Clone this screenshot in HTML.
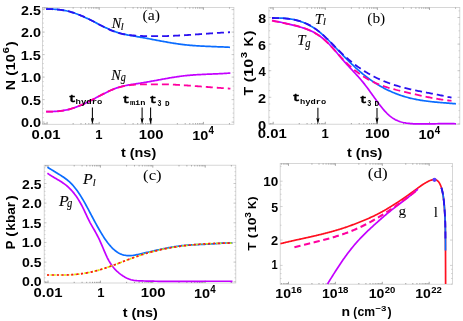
<!DOCTYPE html>
<html><head><meta charset="utf-8"><title>fig</title>
<style>
html,body{margin:0;padding:0;background:#fff;}
body{width:463px;height:321px;overflow:hidden;font-family:"Liberation Sans",sans-serif;}
svg{display:block;position:absolute;left:0;top:0;will-change:transform;}
</style></head><body>
<svg width="463" height="321" viewBox="0 0 463 321">
<rect x="42.5" y="7.4" width="191.40" height="116.90" fill="none" stroke="#cccccc" stroke-width="0.8"/>
<path d="M47.10 124.3 v-2.4 M47.10 7.4 v2.4 M99.20 124.3 v-2.4 M99.20 7.4 v2.4 M151.30 124.3 v-2.4 M151.30 7.4 v2.4 M203.40 124.3 v-2.4 M203.40 7.4 v2.4 " stroke="#808080" stroke-width="0.7" fill="none"/>
<path d="M43.06 124.3 v-1.2 M43.06 7.4 v1.2 M44.58 124.3 v-1.2 M44.58 7.4 v1.2 M45.91 124.3 v-1.2 M45.91 7.4 v1.2 M73.15 124.3 v-1.2 M73.15 7.4 v1.2 M80.99 124.3 v-1.2 M80.99 7.4 v1.2 M85.58 124.3 v-1.2 M85.58 7.4 v1.2 M88.83 124.3 v-1.2 M88.83 7.4 v1.2 M91.36 124.3 v-1.2 M91.36 7.4 v1.2 M93.42 124.3 v-1.2 M93.42 7.4 v1.2 M95.16 124.3 v-1.2 M95.16 7.4 v1.2 M96.68 124.3 v-1.2 M96.68 7.4 v1.2 M98.01 124.3 v-1.2 M98.01 7.4 v1.2 M125.25 124.3 v-1.2 M125.25 7.4 v1.2 M133.09 124.3 v-1.2 M133.09 7.4 v1.2 M137.68 124.3 v-1.2 M137.68 7.4 v1.2 M140.93 124.3 v-1.2 M140.93 7.4 v1.2 M143.46 124.3 v-1.2 M143.46 7.4 v1.2 M145.52 124.3 v-1.2 M145.52 7.4 v1.2 M147.26 124.3 v-1.2 M147.26 7.4 v1.2 M148.78 124.3 v-1.2 M148.78 7.4 v1.2 M150.11 124.3 v-1.2 M150.11 7.4 v1.2 M177.35 124.3 v-1.2 M177.35 7.4 v1.2 M185.19 124.3 v-1.2 M185.19 7.4 v1.2 M189.78 124.3 v-1.2 M189.78 7.4 v1.2 M193.03 124.3 v-1.2 M193.03 7.4 v1.2 M195.56 124.3 v-1.2 M195.56 7.4 v1.2 M197.62 124.3 v-1.2 M197.62 7.4 v1.2 M199.36 124.3 v-1.2 M199.36 7.4 v1.2 M200.88 124.3 v-1.2 M200.88 7.4 v1.2 M202.21 124.3 v-1.2 M202.21 7.4 v1.2 M229.45 124.3 v-1.2 M229.45 7.4 v1.2 " stroke="#808080" stroke-width="0.7" fill="none"/>
<path d="M42.5 122.10 h2.4 M233.9 122.10 h-2.4 M42.5 99.60 h2.4 M233.9 99.60 h-2.4 M42.5 77.10 h2.4 M233.9 77.10 h-2.4 M42.5 54.60 h2.4 M233.9 54.60 h-2.4 M42.5 32.10 h2.4 M233.9 32.10 h-2.4 M42.5 9.60 h2.4 M233.9 9.60 h-2.4 " stroke="#b4b4b4" stroke-width="0.6" fill="none"/>
<path d="M42.5 122.10 h1.3 M233.9 122.10 h-1.3 M42.5 117.60 h1.3 M233.9 117.60 h-1.3 M42.5 113.10 h1.3 M233.9 113.10 h-1.3 M42.5 108.60 h1.3 M233.9 108.60 h-1.3 M42.5 104.10 h1.3 M233.9 104.10 h-1.3 M42.5 99.60 h1.3 M233.9 99.60 h-1.3 M42.5 95.10 h1.3 M233.9 95.10 h-1.3 M42.5 90.60 h1.3 M233.9 90.60 h-1.3 M42.5 86.10 h1.3 M233.9 86.10 h-1.3 M42.5 81.60 h1.3 M233.9 81.60 h-1.3 M42.5 77.10 h1.3 M233.9 77.10 h-1.3 M42.5 72.60 h1.3 M233.9 72.60 h-1.3 M42.5 68.10 h1.3 M233.9 68.10 h-1.3 M42.5 63.60 h1.3 M233.9 63.60 h-1.3 M42.5 59.10 h1.3 M233.9 59.10 h-1.3 M42.5 54.60 h1.3 M233.9 54.60 h-1.3 M42.5 50.10 h1.3 M233.9 50.10 h-1.3 M42.5 45.60 h1.3 M233.9 45.60 h-1.3 M42.5 41.10 h1.3 M233.9 41.10 h-1.3 M42.5 36.60 h1.3 M233.9 36.60 h-1.3 M42.5 32.10 h1.3 M233.9 32.10 h-1.3 M42.5 27.60 h1.3 M233.9 27.60 h-1.3 M42.5 23.10 h1.3 M233.9 23.10 h-1.3 M42.5 18.60 h1.3 M233.9 18.60 h-1.3 M42.5 14.10 h1.3 M233.9 14.10 h-1.3 M42.5 9.60 h1.3 M233.9 9.60 h-1.3 " stroke="#b4b4b4" stroke-width="0.6" fill="none"/>
<path d="M46.10 9.20 L47.10 9.20 L48.10 9.20 L49.10 9.20 L50.10 9.20 L51.10 9.20 L52.10 9.20 L53.10 9.22 L54.10 9.26 L55.10 9.32 L56.09 9.39 L57.09 9.47 L58.09 9.56 L59.09 9.66 L60.09 9.78 L61.09 9.91 L62.09 10.06 L63.09 10.22 L64.09 10.39 L65.09 10.58 L66.09 10.78 L67.09 11.00 L68.09 11.23 L69.09 11.48 L70.09 11.75 L71.09 12.03 L72.09 12.33 L73.09 12.65 L74.08 12.98 L75.08 13.32 L76.08 13.68 L77.08 14.05 L78.08 14.44 L79.08 14.83 L80.08 15.24 L81.08 15.66 L82.08 16.09 L83.08 16.53 L84.08 16.98 L85.08 17.44 L86.08 17.90 L87.08 18.37 L88.08 18.85 L89.08 19.34 L90.08 19.83 L91.08 20.33 L92.08 20.83 L93.07 21.34 L94.07 21.85 L95.07 22.36 L96.07 22.87 L97.07 23.38 L98.07 23.90 L99.07 24.41 L100.07 24.92 L101.07 25.42 L102.07 25.92 L103.07 26.42 L104.07 26.91 L105.07 27.40 L106.07 27.87 L107.07 28.34 L108.07 28.80 L109.07 29.24 L110.07 29.68 L111.06 30.10 L112.06 30.51 L113.06 30.91 L114.06 31.29 L115.06 31.65 L116.06 32.00 L117.06 32.33 L118.06 32.65 L119.06 32.94 L120.06 33.22 L121.06 33.49 L122.06 33.75 L123.06 33.99 L124.06 34.22 L125.06 34.44 L126.06 34.65 L127.06 34.86 L128.06 35.05 L129.05 35.24 L130.05 35.42 L131.05 35.60 L132.05 35.78 L133.05 35.95 L134.05 36.12 L135.05 36.28 L136.05 36.45 L137.05 36.62 L138.05 36.79 L139.05 36.96 L140.05 37.13 L141.05 37.31 L142.05 37.49 L143.05 37.67 L144.05 37.85 L145.05 38.03 L146.05 38.22 L147.05 38.41 L148.04 38.59 L149.04 38.78 L150.04 38.97 L151.04 39.16 L152.04 39.35 L153.04 39.54 L154.04 39.73 L155.04 39.92 L156.04 40.11 L157.04 40.30 L158.04 40.49 L159.04 40.68 L160.04 40.86 L161.04 41.05 L162.04 41.23 L163.04 41.42 L164.04 41.60 L165.04 41.78 L166.03 41.96 L167.03 42.14 L168.03 42.31 L169.03 42.48 L170.03 42.65 L171.03 42.82 L172.03 42.98 L173.03 43.15 L174.03 43.30 L175.03 43.46 L176.03 43.61 L177.03 43.76 L178.03 43.90 L179.03 44.04 L180.03 44.18 L181.03 44.31 L182.03 44.44 L183.03 44.56 L184.03 44.68 L185.02 44.79 L186.02 44.90 L187.02 45.00 L188.02 45.10 L189.02 45.20 L190.02 45.29 L191.02 45.38 L192.02 45.46 L193.02 45.54 L194.02 45.61 L195.02 45.69 L196.02 45.76 L197.02 45.82 L198.02 45.88 L199.02 45.95 L200.02 46.00 L201.02 46.06 L202.02 46.11 L203.01 46.16 L204.01 46.21 L205.01 46.26 L206.01 46.31 L207.01 46.35 L208.01 46.39 L209.01 46.43 L210.01 46.47 L211.01 46.51 L212.01 46.55 L213.01 46.59 L214.01 46.63 L215.01 46.67 L216.01 46.70 L217.01 46.74 L218.01 46.78 L219.01 46.82 L220.01 46.85 L221.00 46.89 L222.00 46.93 L223.00 46.97 L224.00 47.02 L225.00 47.06 L226.00 47.10 L227.00 47.15 L228.00 47.20 L229.00 47.25 L230.00 47.30" fill="none" stroke="#0a6cff" stroke-width="1.7" stroke-linejoin="round" stroke-linecap="butt"/>
<path d="M46.10 9.20 L47.10 9.20 L48.10 9.20 L49.10 9.20 L50.10 9.20 L51.10 9.20 L52.10 9.22 L53.10 9.25 L54.10 9.30 L55.10 9.36 L56.09 9.42 L57.09 9.50 L58.09 9.59 L59.09 9.70 L60.09 9.81 L61.09 9.94 L62.09 10.09 L63.09 10.24 L64.09 10.41 L65.09 10.60 L66.09 10.79 L67.09 11.01 L68.09 11.24 L69.09 11.48 L70.09 11.74 L71.09 12.02 L72.09 12.31 L73.09 12.62 L74.08 12.95 L75.08 13.28 L76.08 13.64 L77.08 14.00 L78.08 14.38 L79.08 14.77 L80.08 15.17 L81.08 15.59 L82.08 16.02 L83.08 16.45 L84.08 16.90 L85.08 17.36 L86.08 17.82 L87.08 18.30 L88.08 18.78 L89.08 19.27 L90.08 19.77 L91.08 20.27 L92.08 20.78 L93.07 21.30 L94.07 21.82 L95.07 22.34 L96.07 22.87 L97.07 23.40 L98.07 23.93 L99.07 24.46 L100.07 24.98 L101.07 25.50 L102.07 26.02 L103.07 26.54 L104.07 27.04 L105.07 27.54 L106.07 28.03 L107.07 28.51 L108.07 28.98 L109.07 29.44 L110.07 29.88 L111.06 30.31 L112.06 30.73 L113.06 31.13 L114.06 31.51 L115.06 31.87 L116.06 32.21 L117.06 32.53 L118.06 32.83 L119.06 33.11 L120.06 33.37 L121.06 33.62 L122.06 33.85 L123.06 34.06 L124.06 34.25 L125.06 34.43 L126.06 34.60 L127.06 34.75 L128.06 34.89 L129.05 35.02 L130.05 35.14 L131.05 35.25 L132.05 35.35 L133.05 35.44 L134.05 35.52 L135.05 35.60 L136.05 35.67 L137.05 35.73 L138.05 35.79 L139.05 35.84 L140.05 35.90 L141.05 35.94 L142.05 35.99 L143.05 36.03 L144.05 36.06 L145.05 36.10 L146.05 36.12 L147.05 36.15 L148.04 36.17 L149.04 36.19 L150.04 36.20 L151.04 36.20 L152.04 36.20 L153.04 36.20 L154.04 36.20 L155.04 36.20 L156.04 36.20 L157.04 36.20 L158.04 36.20 L159.04 36.20 L160.04 36.20 L161.04 36.18 L162.04 36.16 L163.04 36.14 L164.04 36.12 L165.04 36.09 L166.03 36.07 L167.03 36.04 L168.03 36.00 L169.03 35.97 L170.03 35.93 L171.03 35.89 L172.03 35.85 L173.03 35.81 L174.03 35.76 L175.03 35.72 L176.03 35.67 L177.03 35.62 L178.03 35.57 L179.03 35.52 L180.03 35.46 L181.03 35.41 L182.03 35.35 L183.03 35.29 L184.03 35.23 L185.02 35.17 L186.02 35.11 L187.02 35.05 L188.02 34.98 L189.02 34.92 L190.02 34.85 L191.02 34.79 L192.02 34.72 L193.02 34.65 L194.02 34.58 L195.02 34.51 L196.02 34.44 L197.02 34.37 L198.02 34.30 L199.02 34.23 L200.02 34.16 L201.02 34.09 L202.02 34.02 L203.01 33.95 L204.01 33.88 L205.01 33.80 L206.01 33.73 L207.01 33.66 L208.01 33.59 L209.01 33.52 L210.01 33.45 L211.01 33.38 L212.01 33.31 L213.01 33.24 L214.01 33.17 L215.01 33.10 L216.01 33.04 L217.01 32.97 L218.01 32.91 L219.01 32.84 L220.01 32.78 L221.00 32.71 L222.00 32.65 L223.00 32.59 L224.00 32.53 L225.00 32.47 L226.00 32.42 L227.00 32.36 L228.00 32.31 L229.00 32.26 L230.00 32.20" fill="none" stroke="#2a10f0" stroke-width="1.8" stroke-linejoin="round" stroke-linecap="butt" stroke-dasharray="7 4" stroke-dashoffset="0"/>
<path d="M46.10 111.60 L47.10 111.60 L48.09 111.60 L49.09 111.60 L50.08 111.59 L51.08 111.57 L52.08 111.54 L53.07 111.50 L54.07 111.46 L55.07 111.40 L56.06 111.33 L57.06 111.26 L58.05 111.17 L59.05 111.07 L60.05 110.96 L61.04 110.83 L62.04 110.70 L63.04 110.55 L64.03 110.38 L65.03 110.20 L66.02 110.01 L67.02 109.80 L68.02 109.57 L69.01 109.33 L70.01 109.07 L71.01 108.79 L72.00 108.50 L73.00 108.19 L73.99 107.86 L74.99 107.52 L75.99 107.16 L76.98 106.79 L77.98 106.41 L78.98 106.02 L79.97 105.61 L80.97 105.19 L81.96 104.76 L82.96 104.31 L83.96 103.86 L84.95 103.40 L85.95 102.93 L86.94 102.45 L87.94 101.96 L88.94 101.47 L89.93 100.97 L90.93 100.46 L91.93 99.95 L92.92 99.44 L93.92 98.91 L94.91 98.39 L95.91 97.86 L96.91 97.33 L97.90 96.80 L98.90 96.27 L99.90 95.74 L100.89 95.22 L101.89 94.69 L102.88 94.18 L103.88 93.66 L104.88 93.15 L105.87 92.65 L106.87 92.16 L107.87 91.68 L108.86 91.21 L109.86 90.75 L110.85 90.30 L111.85 89.86 L112.85 89.44 L113.84 89.04 L114.84 88.65 L115.84 88.28 L116.83 87.92 L117.83 87.59 L118.82 87.27 L119.82 86.98 L120.82 86.70 L121.81 86.43 L122.81 86.19 L123.80 85.95 L124.80 85.73 L125.80 85.52 L126.79 85.33 L127.79 85.14 L128.79 84.96 L129.78 84.79 L130.78 84.62 L131.77 84.46 L132.77 84.31 L133.77 84.16 L134.76 84.01 L135.76 83.86 L136.76 83.71 L137.75 83.56 L138.75 83.41 L139.74 83.26 L140.74 83.10 L141.74 82.94 L142.73 82.78 L143.73 82.62 L144.73 82.45 L145.72 82.28 L146.72 82.10 L147.71 81.93 L148.71 81.75 L149.71 81.57 L150.70 81.39 L151.70 81.21 L152.70 81.03 L153.69 80.84 L154.69 80.66 L155.68 80.48 L156.68 80.29 L157.68 80.11 L158.67 79.92 L159.67 79.74 L160.66 79.55 L161.66 79.37 L162.66 79.19 L163.65 79.00 L164.65 78.82 L165.65 78.65 L166.64 78.47 L167.64 78.29 L168.63 78.12 L169.63 77.95 L170.63 77.78 L171.62 77.61 L172.62 77.45 L173.62 77.29 L174.61 77.13 L175.61 76.98 L176.60 76.83 L177.60 76.68 L178.60 76.54 L179.59 76.40 L180.59 76.27 L181.59 76.14 L182.58 76.01 L183.58 75.89 L184.57 75.78 L185.57 75.67 L186.57 75.57 L187.56 75.47 L188.56 75.37 L189.56 75.28 L190.55 75.20 L191.55 75.12 L192.54 75.04 L193.54 74.97 L194.54 74.90 L195.53 74.83 L196.53 74.77 L197.52 74.71 L198.52 74.65 L199.52 74.60 L200.51 74.54 L201.51 74.49 L202.51 74.44 L203.50 74.40 L204.50 74.35 L205.49 74.31 L206.49 74.26 L207.49 74.22 L208.48 74.18 L209.48 74.14 L210.48 74.10 L211.47 74.06 L212.47 74.02 L213.46 73.97 L214.46 73.93 L215.46 73.89 L216.45 73.84 L217.45 73.80 L218.45 73.75 L219.44 73.70 L220.44 73.65 L221.43 73.60 L222.43 73.55 L223.43 73.49 L224.42 73.43 L225.42 73.36 L226.42 73.30 L227.41 73.23 L228.41 73.16 L229.40 73.08 L230.40 73.00" fill="none" stroke="#c400ff" stroke-width="1.7" stroke-linejoin="round" stroke-linecap="butt"/>
<path d="M46.10 111.60 L47.10 111.60 L48.09 111.60 L49.09 111.60 L50.08 111.60 L51.08 111.60 L52.08 111.60 L53.07 111.60 L54.07 111.57 L55.07 111.52 L56.06 111.45 L57.06 111.37 L58.05 111.28 L59.05 111.18 L60.05 111.06 L61.04 110.93 L62.04 110.78 L63.04 110.62 L64.03 110.44 L65.03 110.25 L66.02 110.05 L67.02 109.83 L68.02 109.59 L69.01 109.34 L70.01 109.07 L71.01 108.78 L72.00 108.48 L73.00 108.16 L73.99 107.83 L74.99 107.48 L75.99 107.12 L76.98 106.74 L77.98 106.36 L78.98 105.96 L79.97 105.54 L80.97 105.12 L81.96 104.69 L82.96 104.24 L83.96 103.79 L84.95 103.33 L85.95 102.86 L86.94 102.38 L87.94 101.89 L88.94 101.40 L89.93 100.90 L90.93 100.39 L91.93 99.88 L92.92 99.36 L93.92 98.84 L94.91 98.32 L95.91 97.79 L96.91 97.26 L97.90 96.73 L98.90 96.20 L99.90 95.68 L100.89 95.15 L101.89 94.63 L102.88 94.12 L103.88 93.61 L104.88 93.11 L105.87 92.61 L106.87 92.12 L107.87 91.65 L108.86 91.18 L109.86 90.73 L110.85 90.29 L111.85 89.86 L112.85 89.45 L113.84 89.05 L114.84 88.67 L115.84 88.31 L116.83 87.97 L117.83 87.65 L118.82 87.35 L119.82 87.07 L120.82 86.81 L121.81 86.57 L122.81 86.34 L123.80 86.13 L124.80 85.94 L125.80 85.76 L126.79 85.60 L127.79 85.45 L128.79 85.31 L129.78 85.19 L130.78 85.07 L131.77 84.97 L132.77 84.88 L133.77 84.79 L134.76 84.71 L135.76 84.64 L136.76 84.58 L137.75 84.52 L138.75 84.47 L139.74 84.42 L140.74 84.38 L141.74 84.34 L142.73 84.30 L143.73 84.30 L144.73 84.30 L145.72 84.30 L146.72 84.30 L147.71 84.30 L148.71 84.30 L149.71 84.30 L150.70 84.30 L151.70 84.30 L152.70 84.30 L153.69 84.30 L154.69 84.30 L155.68 84.30 L156.68 84.30 L157.68 84.30 L158.67 84.30 L159.67 84.30 L160.66 84.30 L161.66 84.30 L162.66 84.30 L163.65 84.30 L164.65 84.31 L165.65 84.34 L166.64 84.38 L167.64 84.41 L168.63 84.45 L169.63 84.49 L170.63 84.53 L171.62 84.58 L172.62 84.62 L173.62 84.67 L174.61 84.72 L175.61 84.77 L176.60 84.83 L177.60 84.88 L178.60 84.94 L179.59 85.00 L180.59 85.06 L181.59 85.12 L182.58 85.18 L183.58 85.25 L184.57 85.31 L185.57 85.38 L186.57 85.44 L187.56 85.51 L188.56 85.58 L189.56 85.65 L190.55 85.72 L191.55 85.79 L192.54 85.87 L193.54 85.94 L194.54 86.01 L195.53 86.09 L196.53 86.16 L197.52 86.24 L198.52 86.31 L199.52 86.39 L200.51 86.47 L201.51 86.54 L202.51 86.62 L203.50 86.70 L204.50 86.77 L205.49 86.85 L206.49 86.93 L207.49 87.00 L208.48 87.08 L209.48 87.16 L210.48 87.23 L211.47 87.31 L212.47 87.38 L213.46 87.46 L214.46 87.53 L215.46 87.61 L216.45 87.68 L217.45 87.75 L218.45 87.82 L219.44 87.89 L220.44 87.96 L221.43 88.03 L222.43 88.10 L223.43 88.17 L224.42 88.23 L225.42 88.30 L226.42 88.36 L227.41 88.42 L228.41 88.48 L229.40 88.54 L230.40 88.60" fill="none" stroke="#ff00a0" stroke-width="1.8" stroke-linejoin="round" stroke-linecap="butt" stroke-dasharray="7 4" stroke-dashoffset="0"/>
<text transform="translate(21.12,15.00) scale(1.1442,1.0000)" font-family="Liberation Sans, sans-serif" font-weight="bold" font-style="normal" font-size="12.43" fill="#000" xml:space="preserve">2.5</text>
<text transform="translate(21.11,37.44) scale(1.1555,1.0000)" font-family="Liberation Sans, sans-serif" font-weight="bold" font-style="normal" font-size="12.43" fill="#000" xml:space="preserve">2.0</text>
<text transform="translate(20.70,59.88) scale(1.1688,1.0000)" font-family="Liberation Sans, sans-serif" font-weight="bold" font-style="normal" font-size="12.43" fill="#000" xml:space="preserve">1.5</text>
<text transform="translate(20.69,82.32) scale(1.1806,1.0000)" font-family="Liberation Sans, sans-serif" font-weight="bold" font-style="normal" font-size="12.43" fill="#000" xml:space="preserve">1.0</text>
<text transform="translate(21.04,104.76) scale(1.1485,1.0000)" font-family="Liberation Sans, sans-serif" font-weight="bold" font-style="normal" font-size="12.43" fill="#000" xml:space="preserve">0.5</text>
<text transform="translate(21.04,127.20) scale(1.1599,1.0000)" font-family="Liberation Sans, sans-serif" font-weight="bold" font-style="normal" font-size="12.43" fill="#000" xml:space="preserve">0.0</text>
<text transform="translate(31.62,138.70) scale(1.1462,1.0000)" font-family="Liberation Sans, sans-serif" font-weight="bold" font-style="normal" font-size="12.99" fill="#000" xml:space="preserve">0.01</text>
<text transform="translate(95.29,138.60) scale(0.9768,1.0000)" font-family="Liberation Sans, sans-serif" font-weight="bold" font-style="normal" font-size="13.37" fill="#000" xml:space="preserve">1</text>
<text transform="translate(138.78,138.70) scale(1.1450,1.0000)" font-family="Liberation Sans, sans-serif" font-weight="bold" font-style="normal" font-size="12.99" fill="#000" xml:space="preserve">100</text>
<text transform="translate(192.20,139.60) scale(1.1124,1.0000)" font-family="Liberation Sans, sans-serif" font-weight="bold" font-style="normal" font-size="12.99" fill="#000" xml:space="preserve">10</text>
<text transform="translate(208.45,133.90) scale(0.9535,1.0000)" font-family="Liberation Sans, sans-serif" font-weight="bold" font-style="normal" font-size="10.17" fill="#000" xml:space="preserve">4</text>
<text transform="translate(120.93,156.90) scale(1.1614,1.0000)" font-family="Liberation Sans, sans-serif" font-weight="bold" font-style="normal" font-size="12.43" fill="#000" xml:space="preserve">t (ns)</text>
<g transform="translate(15,89.2) rotate(-90)"><text transform="translate(-0.94,0.00) scale(1.1474,1.0000)" font-family="Liberation Sans, sans-serif" font-weight="bold" font-style="normal" font-size="12.43" fill="#000" xml:space="preserve">N</text><text transform="translate(13.56,0.00) scale(1.2000,1.0000)" font-family="Liberation Sans, sans-serif" font-weight="bold" font-style="normal" font-size="12.43" fill="#000" xml:space="preserve">(</text><text transform="translate(18.79,0.00) scale(1.1789,1.0000)" font-family="Liberation Sans, sans-serif" font-weight="bold" font-style="normal" font-size="12.43" fill="#000" xml:space="preserve">10</text><text transform="translate(35.60,-6.00) scale(1.2500,1.0000)" font-family="Liberation Sans, sans-serif" font-weight="bold" font-style="normal" font-size="9.18" fill="#000" xml:space="preserve">6</text><text transform="translate(42.87,0.00) scale(1.2000,1.0000)" font-family="Liberation Sans, sans-serif" font-weight="bold" font-style="normal" font-size="12.43" fill="#000" xml:space="preserve">)</text></g>
<text transform="translate(111.81,27.70) scale(0.9511,1.0000)" font-family="Liberation Serif, serif" font-weight="normal" font-style="italic" font-size="15.00" fill="#000" stroke="#000" stroke-width="0.12" stroke-linejoin="round" xml:space="preserve">N</text>
<text transform="translate(120.85,29.90) scale(1.0000,1.0000)" font-family="Liberation Serif, serif" font-weight="normal" font-style="italic" font-size="10.40" fill="#000" stroke="#000" stroke-width="0.12" stroke-linejoin="round" xml:space="preserve">l</text>
<text transform="translate(111.31,79.70) scale(0.9511,1.0000)" font-family="Liberation Serif, serif" font-weight="normal" font-style="italic" font-size="15.00" fill="#000" stroke="#000" stroke-width="0.12" stroke-linejoin="round" xml:space="preserve">N</text>
<text transform="translate(120.80,81.30) scale(0.8862,1.0000)" font-family="Liberation Serif, serif" font-weight="normal" font-style="italic" font-size="11.50" fill="#000" stroke="#000" stroke-width="0.12" stroke-linejoin="round" xml:space="preserve">g</text>
<text transform="translate(142.42,20.10) scale(1.1300,1.0000)" font-family="Liberation Serif, serif" font-weight="normal" font-style="normal" font-size="14.00" fill="#000" xml:space="preserve">(a)</text>
<text transform="translate(68.75,102.30) scale(1.1045,1.0000)" font-family="Liberation Mono, monospace" font-weight="bold" font-style="normal" font-size="11.00" fill="#000" stroke="#000" stroke-width="0.45" stroke-linejoin="round" xml:space="preserve">t</text>
<text transform="translate(75.58,104.00) scale(1.2289,1.0000)" font-family="Liberation Mono, monospace" font-weight="bold" font-style="normal" font-size="7.30" fill="#000" xml:space="preserve">hydro</text>
<path d="M92.4 107.5 L92.4 121.4" stroke="#000" stroke-width="1.05" fill="none"/>
<path d="M90.80000000000001 117.80000000000001 L92.4 119.0 L94.0 117.80000000000001 L92.4 124.7 Z" fill="#000"/>
<text transform="translate(122.57,103.00) scale(1.0833,1.0000)" font-family="Liberation Mono, monospace" font-weight="bold" font-style="normal" font-size="11.00" fill="#000" stroke="#000" stroke-width="0.45" stroke-linejoin="round" xml:space="preserve">t</text>
<text transform="translate(129.91,104.80) scale(1.1116,1.0000)" font-family="Liberation Mono, monospace" font-weight="bold" font-style="normal" font-size="7.80" fill="#000" xml:space="preserve">min</text>
<path d="M142.1 107.5 L142.1 121.4" stroke="#000" stroke-width="1.05" fill="none"/>
<path d="M140.5 117.80000000000001 L142.1 119.0 L143.7 117.80000000000001 L142.1 124.7 Z" fill="#000"/>
<text transform="translate(149.57,103.00) scale(1.0833,1.0000)" font-family="Liberation Mono, monospace" font-weight="bold" font-style="normal" font-size="11.00" fill="#000" stroke="#000" stroke-width="0.45" stroke-linejoin="round" xml:space="preserve">t</text>
<text transform="translate(157.41,106.20) scale(0.7598,1.0000)" font-family="Liberation Mono, monospace" font-weight="bold" font-style="normal" font-size="8.60" fill="#000" xml:space="preserve">3</text>
<text transform="translate(164.90,106.20) scale(0.9802,1.0000)" font-family="Liberation Mono, monospace" font-weight="bold" font-style="normal" font-size="7.80" fill="#000" xml:space="preserve">D</text>
<path d="M150.6 107.5 L150.6 121.4" stroke="#000" stroke-width="1.05" fill="none"/>
<path d="M149.0 117.80000000000001 L150.6 119.0 L152.2 117.80000000000001 L150.6 124.7 Z" fill="#000"/>
<rect x="268.9" y="7.5" width="190.90" height="116.70" fill="none" stroke="#cccccc" stroke-width="0.8"/>
<path d="M273.20 124.2 v-2.4 M273.20 7.5 v2.4 M325.30 124.2 v-2.4 M325.30 7.5 v2.4 M377.40 124.2 v-2.4 M377.40 7.5 v2.4 M429.50 124.2 v-2.4 M429.50 7.5 v2.4 " stroke="#808080" stroke-width="0.7" fill="none"/>
<path d="M270.68 124.2 v-1.2 M270.68 7.5 v1.2 M272.01 124.2 v-1.2 M272.01 7.5 v1.2 M299.25 124.2 v-1.2 M299.25 7.5 v1.2 M307.09 124.2 v-1.2 M307.09 7.5 v1.2 M311.68 124.2 v-1.2 M311.68 7.5 v1.2 M314.93 124.2 v-1.2 M314.93 7.5 v1.2 M317.46 124.2 v-1.2 M317.46 7.5 v1.2 M319.52 124.2 v-1.2 M319.52 7.5 v1.2 M321.26 124.2 v-1.2 M321.26 7.5 v1.2 M322.78 124.2 v-1.2 M322.78 7.5 v1.2 M324.11 124.2 v-1.2 M324.11 7.5 v1.2 M351.35 124.2 v-1.2 M351.35 7.5 v1.2 M359.19 124.2 v-1.2 M359.19 7.5 v1.2 M363.78 124.2 v-1.2 M363.78 7.5 v1.2 M367.03 124.2 v-1.2 M367.03 7.5 v1.2 M369.56 124.2 v-1.2 M369.56 7.5 v1.2 M371.62 124.2 v-1.2 M371.62 7.5 v1.2 M373.36 124.2 v-1.2 M373.36 7.5 v1.2 M374.88 124.2 v-1.2 M374.88 7.5 v1.2 M376.21 124.2 v-1.2 M376.21 7.5 v1.2 M403.45 124.2 v-1.2 M403.45 7.5 v1.2 M411.29 124.2 v-1.2 M411.29 7.5 v1.2 M415.88 124.2 v-1.2 M415.88 7.5 v1.2 M419.13 124.2 v-1.2 M419.13 7.5 v1.2 M421.66 124.2 v-1.2 M421.66 7.5 v1.2 M423.72 124.2 v-1.2 M423.72 7.5 v1.2 M425.46 124.2 v-1.2 M425.46 7.5 v1.2 M426.98 124.2 v-1.2 M426.98 7.5 v1.2 M428.31 124.2 v-1.2 M428.31 7.5 v1.2 M455.55 124.2 v-1.2 M455.55 7.5 v1.2 " stroke="#808080" stroke-width="0.7" fill="none"/>
<path d="M268.9 123.90 h2.4 M459.8 123.90 h-2.4 M268.9 97.30 h2.4 M459.8 97.30 h-2.4 M268.9 70.70 h2.4 M459.8 70.70 h-2.4 M268.9 44.10 h2.4 M459.8 44.10 h-2.4 M268.9 17.50 h2.4 M459.8 17.50 h-2.4 " stroke="#b4b4b4" stroke-width="0.6" fill="none"/>
<path d="M268.9 123.90 h1.3 M459.8 123.90 h-1.3 M268.9 117.25 h1.3 M459.8 117.25 h-1.3 M268.9 110.60 h1.3 M459.8 110.60 h-1.3 M268.9 103.95 h1.3 M459.8 103.95 h-1.3 M268.9 97.30 h1.3 M459.8 97.30 h-1.3 M268.9 90.65 h1.3 M459.8 90.65 h-1.3 M268.9 84.00 h1.3 M459.8 84.00 h-1.3 M268.9 77.35 h1.3 M459.8 77.35 h-1.3 M268.9 70.70 h1.3 M459.8 70.70 h-1.3 M268.9 64.05 h1.3 M459.8 64.05 h-1.3 M268.9 57.40 h1.3 M459.8 57.40 h-1.3 M268.9 50.75 h1.3 M459.8 50.75 h-1.3 M268.9 44.10 h1.3 M459.8 44.10 h-1.3 M268.9 37.45 h1.3 M459.8 37.45 h-1.3 M268.9 30.80 h1.3 M459.8 30.80 h-1.3 M268.9 24.15 h1.3 M459.8 24.15 h-1.3 M268.9 17.50 h1.3 M459.8 17.50 h-1.3 M268.9 10.85 h1.3 M459.8 10.85 h-1.3 " stroke="#b4b4b4" stroke-width="0.6" fill="none"/>
<path d="M272.00 18.00 L273.00 18.00 L274.00 18.00 L275.00 18.00 L276.00 18.00 L277.00 18.00 L278.00 18.00 L279.00 18.01 L280.00 18.04 L281.00 18.08 L281.99 18.13 L282.99 18.18 L283.99 18.25 L284.99 18.34 L285.99 18.43 L286.99 18.53 L287.99 18.65 L288.99 18.78 L289.99 18.93 L290.99 19.09 L291.99 19.26 L292.99 19.45 L293.99 19.66 L294.99 19.88 L295.99 20.12 L296.99 20.38 L297.99 20.65 L298.99 20.95 L299.98 21.26 L300.98 21.60 L301.98 21.95 L302.98 22.33 L303.98 22.72 L304.98 23.14 L305.98 23.58 L306.98 24.05 L307.98 24.53 L308.98 25.05 L309.98 25.58 L310.98 26.14 L311.98 26.73 L312.98 27.34 L313.98 27.99 L314.98 28.65 L315.98 29.35 L316.98 30.07 L317.98 30.83 L318.97 31.61 L319.97 32.42 L320.97 33.26 L321.97 34.12 L322.97 35.01 L323.97 35.91 L324.97 36.84 L325.97 37.79 L326.97 38.75 L327.97 39.73 L328.97 40.73 L329.97 41.74 L330.97 42.76 L331.97 43.78 L332.97 44.82 L333.97 45.87 L334.97 46.91 L335.97 47.97 L336.96 49.02 L337.96 50.08 L338.96 51.14 L339.96 52.19 L340.96 53.24 L341.96 54.28 L342.96 55.32 L343.96 56.35 L344.96 57.37 L345.96 58.39 L346.96 59.40 L347.96 60.39 L348.96 61.38 L349.96 62.36 L350.96 63.33 L351.96 64.29 L352.96 65.24 L353.96 66.18 L354.95 67.11 L355.95 68.02 L356.95 68.93 L357.95 69.82 L358.95 70.70 L359.95 71.56 L360.95 72.42 L361.95 73.26 L362.95 74.08 L363.95 74.89 L364.95 75.69 L365.95 76.47 L366.95 77.23 L367.95 77.98 L368.95 78.72 L369.95 79.44 L370.95 80.15 L371.95 80.85 L372.95 81.53 L373.94 82.19 L374.94 82.85 L375.94 83.49 L376.94 84.11 L377.94 84.72 L378.94 85.32 L379.94 85.91 L380.94 86.49 L381.94 87.05 L382.94 87.59 L383.94 88.13 L384.94 88.65 L385.94 89.16 L386.94 89.66 L387.94 90.15 L388.94 90.63 L389.94 91.09 L390.94 91.54 L391.93 91.98 L392.93 92.41 L393.93 92.83 L394.93 93.23 L395.93 93.63 L396.93 94.01 L397.93 94.38 L398.93 94.75 L399.93 95.10 L400.93 95.44 L401.93 95.77 L402.93 96.09 L403.93 96.40 L404.93 96.70 L405.93 96.99 L406.93 97.27 L407.93 97.54 L408.93 97.81 L409.92 98.06 L410.92 98.30 L411.92 98.54 L412.92 98.76 L413.92 98.98 L414.92 99.19 L415.92 99.39 L416.92 99.58 L417.92 99.77 L418.92 99.95 L419.92 100.12 L420.92 100.29 L421.92 100.44 L422.92 100.60 L423.92 100.74 L424.92 100.88 L425.92 101.02 L426.92 101.15 L427.92 101.27 L428.91 101.39 L429.91 101.51 L430.91 101.62 L431.91 101.73 L432.91 101.84 L433.91 101.94 L434.91 102.03 L435.91 102.13 L436.91 102.22 L437.91 102.31 L438.91 102.40 L439.91 102.48 L440.91 102.57 L441.91 102.65 L442.91 102.73 L443.91 102.81 L444.91 102.89 L445.91 102.97 L446.90 103.05 L447.90 103.13 L448.90 103.21 L449.90 103.29 L450.90 103.37 L451.90 103.45 L452.90 103.54 L453.90 103.62 L454.90 103.71 L455.90 103.80" fill="none" stroke="#0a6cff" stroke-width="1.7" stroke-linejoin="round" stroke-linecap="butt"/>
<path d="M272.00 18.00 L273.00 18.01 L273.99 18.02 L274.99 18.03 L275.99 18.04 L276.99 18.06 L277.98 18.09 L278.98 18.12 L279.98 18.16 L280.98 18.20 L281.97 18.25 L282.97 18.32 L283.97 18.38 L284.96 18.46 L285.96 18.55 L286.96 18.65 L287.96 18.76 L288.95 18.89 L289.95 19.02 L290.95 19.17 L291.94 19.34 L292.94 19.51 L293.94 19.71 L294.94 19.92 L295.93 20.14 L296.93 20.39 L297.93 20.65 L298.93 20.93 L299.92 21.23 L300.92 21.54 L301.92 21.88 L302.91 22.24 L303.91 22.63 L304.91 23.03 L305.91 23.46 L306.90 23.91 L307.90 24.38 L308.90 24.88 L309.89 25.41 L310.89 25.96 L311.89 26.54 L312.89 27.14 L313.88 27.77 L314.88 28.44 L315.88 29.13 L316.88 29.85 L317.87 30.60 L318.87 31.39 L319.87 32.20 L320.86 33.04 L321.86 33.90 L322.86 34.79 L323.86 35.70 L324.85 36.63 L325.85 37.57 L326.85 38.53 L327.84 39.50 L328.84 40.49 L329.84 41.48 L330.84 42.48 L331.83 43.49 L332.83 44.50 L333.83 45.50 L334.82 46.51 L335.82 47.52 L336.82 48.52 L337.82 49.51 L338.81 50.49 L339.81 51.46 L340.81 52.42 L341.81 53.37 L342.80 54.30 L343.80 55.22 L344.80 56.12 L345.79 57.02 L346.79 57.89 L347.79 58.76 L348.79 59.61 L349.78 60.45 L350.78 61.27 L351.78 62.08 L352.77 62.88 L353.77 63.66 L354.77 64.43 L355.77 65.19 L356.76 65.93 L357.76 66.66 L358.76 67.37 L359.76 68.07 L360.75 68.76 L361.75 69.43 L362.75 70.09 L363.74 70.74 L364.74 71.37 L365.74 71.99 L366.74 72.59 L367.73 73.18 L368.73 73.76 L369.73 74.33 L370.73 74.89 L371.72 75.43 L372.72 75.96 L373.72 76.48 L374.71 76.98 L375.71 77.48 L376.71 77.96 L377.71 78.44 L378.70 78.90 L379.70 79.35 L380.70 79.80 L381.69 80.23 L382.69 80.65 L383.69 81.07 L384.69 81.47 L385.68 81.86 L386.68 82.25 L387.68 82.62 L388.68 82.99 L389.67 83.35 L390.67 83.70 L391.67 84.05 L392.66 84.38 L393.66 84.71 L394.66 85.03 L395.66 85.34 L396.65 85.65 L397.65 85.95 L398.65 86.24 L399.64 86.53 L400.64 86.81 L401.64 87.08 L402.64 87.35 L403.63 87.61 L404.63 87.87 L405.63 88.12 L406.62 88.37 L407.62 88.61 L408.62 88.85 L409.62 89.08 L410.61 89.31 L411.61 89.54 L412.61 89.76 L413.61 89.98 L414.60 90.19 L415.60 90.41 L416.60 90.62 L417.59 90.82 L418.59 91.03 L419.59 91.23 L420.59 91.43 L421.58 91.63 L422.58 91.82 L423.58 92.02 L424.57 92.21 L425.57 92.40 L426.57 92.59 L427.57 92.78 L428.56 92.98 L429.56 93.17 L430.56 93.36 L431.56 93.55 L432.55 93.74 L433.55 93.93 L434.55 94.12 L435.54 94.31 L436.54 94.51 L437.54 94.70 L438.54 94.90 L439.53 95.10 L440.53 95.30 L441.53 95.50 L442.52 95.71 L443.52 95.92 L444.52 96.13 L445.52 96.34 L446.51 96.56 L447.51 96.78 L448.51 97.01 L449.51 97.24 L450.50 97.47 L451.50 97.70" fill="none" stroke="#2a10f0" stroke-width="1.8" stroke-linejoin="round" stroke-linecap="butt" stroke-dasharray="7 4" stroke-dashoffset="0"/>
<path d="M272.00 20.50 L272.99 20.68 L273.99 20.87 L274.98 21.06 L275.98 21.26 L276.97 21.46 L277.97 21.66 L278.96 21.87 L279.96 22.08 L280.95 22.29 L281.95 22.51 L282.94 22.74 L283.94 22.96 L284.93 23.19 L285.92 23.42 L286.92 23.66 L287.91 23.90 L288.91 24.14 L289.90 24.38 L290.90 24.63 L291.89 24.88 L292.89 25.13 L293.88 25.39 L294.88 25.65 L295.87 25.90 L296.86 26.17 L297.86 26.43 L298.85 26.70 L299.85 26.98 L300.84 27.26 L301.84 27.56 L302.83 27.86 L303.83 28.18 L304.82 28.51 L305.82 28.85 L306.81 29.22 L307.81 29.59 L308.80 29.99 L309.79 30.41 L310.79 30.85 L311.78 31.31 L312.78 31.79 L313.77 32.30 L314.77 32.84 L315.76 33.41 L316.76 34.01 L317.75 34.63 L318.75 35.29 L319.74 35.99 L320.74 36.72 L321.73 37.48 L322.72 38.28 L323.72 39.11 L324.71 39.97 L325.71 40.86 L326.70 41.79 L327.70 42.75 L328.69 43.73 L329.69 44.75 L330.68 45.80 L331.68 46.87 L332.67 47.97 L333.66 49.10 L334.66 50.24 L335.65 51.40 L336.65 52.57 L337.64 53.75 L338.64 54.93 L339.63 56.11 L340.63 57.29 L341.62 58.46 L342.62 59.61 L343.61 60.75 L344.61 61.88 L345.60 62.98 L346.59 64.08 L347.59 65.16 L348.58 66.24 L349.58 67.31 L350.57 68.37 L351.57 69.44 L352.56 70.50 L353.56 71.57 L354.55 72.64 L355.55 73.72 L356.54 74.81 L357.54 75.91 L358.53 77.02 L359.52 78.15 L360.52 79.30 L361.51 80.47 L362.51 81.66 L363.50 82.88 L364.50 84.13 L365.49 85.40 L366.49 86.70 L367.48 88.03 L368.48 89.38 L369.47 90.75 L370.46 92.13 L371.46 93.52 L372.45 94.91 L373.45 96.30 L374.44 97.70 L375.44 99.08 L376.43 100.46 L377.43 101.82 L378.42 103.16 L379.42 104.48 L380.41 105.77 L381.41 107.03 L382.40 108.26 L383.39 109.45 L384.39 110.60 L385.38 111.71 L386.38 112.76 L387.37 113.76 L388.37 114.70 L389.36 115.58 L390.36 116.39 L391.35 117.15 L392.35 117.85 L393.34 118.50 L394.34 119.09 L395.33 119.64 L396.32 120.14 L397.32 120.59 L398.31 121.01 L399.31 121.38 L400.30 121.71 L401.30 122.01 L402.29 122.28 L403.29 122.52 L404.28 122.73 L405.28 122.91 L406.27 123.08 L407.26 123.22 L408.26 123.35 L409.25 123.46 L410.25 123.55 L411.24 123.64 L412.24 123.72 L413.23 123.78 L414.23 123.80 L415.22 123.80 L416.22 123.80 L417.21 123.80 L418.21 123.80 L419.20 123.80 L420.19 123.80 L421.19 123.80 L422.18 123.80 L423.18 123.80 L424.17 123.80 L425.17 123.80 L426.16 123.80 L427.16 123.80 L428.15 123.80 L429.15 123.80 L430.14 123.80 L431.14 123.80 L432.13 123.80 L433.12 123.80 L434.12 123.80 L435.11 123.80 L436.11 123.77 L437.10 123.74 L438.10 123.71 L439.09 123.68 L440.09 123.66 L441.08 123.63 L442.08 123.61 L443.07 123.59 L444.06 123.58 L445.06 123.57 L446.05 123.56 L447.05 123.56 L448.04 123.56 L449.04 123.57 L450.03 123.58 L451.03 123.60 L452.02 123.63 L453.02 123.66 L454.01 123.70 L455.01 123.75 L456.00 123.80" fill="none" stroke="#c400ff" stroke-width="1.7" stroke-linejoin="round" stroke-linecap="butt"/>
<path d="M272.00 20.50 L273.00 20.77 L273.99 21.03 L274.99 21.27 L275.99 21.51 L276.99 21.74 L277.98 21.97 L278.98 22.18 L279.98 22.39 L280.98 22.60 L281.97 22.80 L282.97 23.00 L283.97 23.20 L284.96 23.39 L285.96 23.58 L286.96 23.78 L287.96 23.98 L288.95 24.17 L289.95 24.38 L290.95 24.58 L291.94 24.79 L292.94 25.01 L293.94 25.23 L294.94 25.46 L295.93 25.70 L296.93 25.95 L297.93 26.21 L298.93 26.48 L299.92 26.76 L300.92 27.05 L301.92 27.36 L302.91 27.68 L303.91 28.02 L304.91 28.37 L305.91 28.75 L306.90 29.14 L307.90 29.54 L308.90 29.97 L309.89 30.42 L310.89 30.89 L311.89 31.39 L312.89 31.91 L313.88 32.45 L314.88 33.01 L315.88 33.61 L316.88 34.23 L317.87 34.87 L318.87 35.55 L319.87 36.26 L320.86 36.99 L321.86 37.76 L322.86 38.55 L323.86 39.38 L324.85 40.23 L325.85 41.12 L326.85 42.03 L327.84 42.98 L328.84 43.96 L329.84 44.97 L330.84 46.01 L331.83 47.08 L332.83 48.17 L333.83 49.27 L334.82 50.39 L335.82 51.52 L336.82 52.64 L337.82 53.76 L338.81 54.88 L339.81 55.98 L340.81 57.06 L341.81 58.13 L342.80 59.17 L343.80 60.20 L344.80 61.20 L345.79 62.19 L346.79 63.16 L347.79 64.11 L348.79 65.04 L349.78 65.96 L350.78 66.85 L351.78 67.73 L352.77 68.58 L353.77 69.42 L354.77 70.23 L355.77 71.03 L356.76 71.81 L357.76 72.57 L358.76 73.31 L359.76 74.03 L360.75 74.73 L361.75 75.41 L362.75 76.07 L363.74 76.71 L364.74 77.34 L365.74 77.94 L366.74 78.53 L367.73 79.10 L368.73 79.65 L369.73 80.19 L370.73 80.71 L371.72 81.21 L372.72 81.70 L373.72 82.18 L374.71 82.64 L375.71 83.08 L376.71 83.52 L377.71 83.94 L378.70 84.34 L379.70 84.74 L380.70 85.12 L381.69 85.49 L382.69 85.85 L383.69 86.20 L384.69 86.54 L385.68 86.87 L386.68 87.20 L387.68 87.51 L388.68 87.81 L389.67 88.11 L390.67 88.40 L391.67 88.68 L392.66 88.96 L393.66 89.23 L394.66 89.49 L395.66 89.75 L396.65 90.00 L397.65 90.25 L398.65 90.50 L399.64 90.74 L400.64 90.98 L401.64 91.21 L402.64 91.45 L403.63 91.68 L404.63 91.91 L405.63 92.14 L406.62 92.37 L407.62 92.60 L408.62 92.83 L409.62 93.06 L410.61 93.29 L411.61 93.52 L412.61 93.75 L413.61 93.98 L414.60 94.20 L415.60 94.43 L416.60 94.66 L417.59 94.88 L418.59 95.11 L419.59 95.33 L420.59 95.55 L421.58 95.77 L422.58 95.99 L423.58 96.21 L424.57 96.42 L425.57 96.63 L426.57 96.84 L427.57 97.05 L428.56 97.25 L429.56 97.45 L430.56 97.65 L431.56 97.85 L432.55 98.04 L433.55 98.22 L434.55 98.41 L435.54 98.59 L436.54 98.76 L437.54 98.93 L438.54 99.10 L439.53 99.26 L440.53 99.42 L441.53 99.57 L442.52 99.72 L443.52 99.86 L444.52 100.00 L445.52 100.13 L446.51 100.26 L447.51 100.38 L448.51 100.49 L449.51 100.60 L450.50 100.70 L451.50 100.80" fill="none" stroke="#ff00a0" stroke-width="1.8" stroke-linejoin="round" stroke-linecap="butt" stroke-dasharray="7 4" stroke-dashoffset="0"/>
<text transform="translate(258.16,23.10) scale(1.1377,1.0000)" font-family="Liberation Sans, sans-serif" font-weight="bold" font-style="normal" font-size="12.43" fill="#000" xml:space="preserve">8</text>
<text transform="translate(258.08,49.70) scale(1.1612,1.0000)" font-family="Liberation Sans, sans-serif" font-weight="bold" font-style="normal" font-size="12.43" fill="#000" xml:space="preserve">6</text>
<text transform="translate(258.40,76.30) scale(1.0210,1.0000)" font-family="Liberation Sans, sans-serif" font-weight="bold" font-style="normal" font-size="12.79" fill="#000" xml:space="preserve">4</text>
<text transform="translate(258.11,102.90) scale(1.1331,1.0000)" font-family="Liberation Sans, sans-serif" font-weight="bold" font-style="normal" font-size="12.79" fill="#000" xml:space="preserve">2</text>
<text transform="translate(258.03,129.50) scale(1.1807,1.0000)" font-family="Liberation Sans, sans-serif" font-weight="bold" font-style="normal" font-size="12.43" fill="#000" xml:space="preserve">0</text>
<text transform="translate(257.82,138.40) scale(1.1462,1.0000)" font-family="Liberation Sans, sans-serif" font-weight="bold" font-style="normal" font-size="12.99" fill="#000" xml:space="preserve">0.01</text>
<text transform="translate(321.49,138.30) scale(0.9768,1.0000)" font-family="Liberation Sans, sans-serif" font-weight="bold" font-style="normal" font-size="13.37" fill="#000" xml:space="preserve">1</text>
<text transform="translate(364.98,138.40) scale(1.1450,1.0000)" font-family="Liberation Sans, sans-serif" font-weight="bold" font-style="normal" font-size="12.99" fill="#000" xml:space="preserve">100</text>
<text transform="translate(418.40,139.40) scale(1.1124,1.0000)" font-family="Liberation Sans, sans-serif" font-weight="bold" font-style="normal" font-size="12.99" fill="#000" xml:space="preserve">10</text>
<text transform="translate(434.65,133.70) scale(0.9535,1.0000)" font-family="Liberation Sans, sans-serif" font-weight="bold" font-style="normal" font-size="10.17" fill="#000" xml:space="preserve">4</text>
<text transform="translate(347.03,157.30) scale(1.1648,1.0000)" font-family="Liberation Sans, sans-serif" font-weight="bold" font-style="normal" font-size="12.43" fill="#000" xml:space="preserve">t (ns)</text>
<g transform="translate(253,95.4) rotate(-90)"><text transform="translate(-0.15,0.00) scale(1.1318,1.0000)" font-family="Liberation Sans, sans-serif" font-weight="bold" font-style="normal" font-size="12.43" fill="#000" xml:space="preserve">T</text><text transform="translate(13.16,0.00) scale(1.2000,1.0000)" font-family="Liberation Sans, sans-serif" font-weight="bold" font-style="normal" font-size="12.43" fill="#000" xml:space="preserve">(</text><text transform="translate(18.71,0.00) scale(1.2905,1.0000)" font-family="Liberation Sans, sans-serif" font-weight="bold" font-style="normal" font-size="12.43" fill="#000" xml:space="preserve">10</text><text transform="translate(37.18,-6.00) scale(1.2500,1.0000)" font-family="Liberation Sans, sans-serif" font-weight="bold" font-style="normal" font-size="9.18" fill="#000" xml:space="preserve">3</text><text transform="translate(49.00,0.00) scale(1.0943,1.0000)" font-family="Liberation Sans, sans-serif" font-weight="bold" font-style="normal" font-size="12.43" fill="#000" xml:space="preserve">K</text><text transform="translate(59.97,0.00) scale(1.2000,1.0000)" font-family="Liberation Sans, sans-serif" font-weight="bold" font-style="normal" font-size="12.43" fill="#000" xml:space="preserve">)</text></g>
<text transform="translate(314.63,23.60) scale(0.9921,1.0000)" font-family="Liberation Serif, serif" font-weight="normal" font-style="italic" font-size="15.00" fill="#000" stroke="#000" stroke-width="0.12" stroke-linejoin="round" xml:space="preserve">T</text>
<text transform="translate(322.95,25.20) scale(1.0000,1.0000)" font-family="Liberation Serif, serif" font-weight="normal" font-style="italic" font-size="10.40" fill="#000" stroke="#000" stroke-width="0.12" stroke-linejoin="round" xml:space="preserve">l</text>
<text transform="translate(297.13,45.00) scale(0.9921,1.0000)" font-family="Liberation Serif, serif" font-weight="normal" font-style="italic" font-size="15.00" fill="#000" stroke="#000" stroke-width="0.12" stroke-linejoin="round" xml:space="preserve">T</text>
<text transform="translate(305.20,46.60) scale(0.9231,1.0000)" font-family="Liberation Serif, serif" font-weight="normal" font-style="italic" font-size="11.50" fill="#000" stroke="#000" stroke-width="0.12" stroke-linejoin="round" xml:space="preserve">g</text>
<text transform="translate(367.24,22.80) scale(1.1045,1.0000)" font-family="Liberation Serif, serif" font-weight="normal" font-style="normal" font-size="14.00" fill="#000" xml:space="preserve">(b)</text>
<text transform="translate(292.52,101.00) scale(1.1470,1.0000)" font-family="Liberation Mono, monospace" font-weight="bold" font-style="normal" font-size="11.00" fill="#000" stroke="#000" stroke-width="0.45" stroke-linejoin="round" xml:space="preserve">t</text>
<text transform="translate(299.90,104.00) scale(1.2005,1.0000)" font-family="Liberation Mono, monospace" font-weight="bold" font-style="normal" font-size="7.30" fill="#000" xml:space="preserve">hydro</text>
<path d="M317.9 107.8 L317.9 121.3" stroke="#000" stroke-width="1.05" fill="none"/>
<path d="M316.29999999999995 117.7 L317.9 118.89999999999999 L319.5 117.7 L317.9 124.6 Z" fill="#000"/>
<text transform="translate(359.65,103.00) scale(1.1045,1.0000)" font-family="Liberation Mono, monospace" font-weight="bold" font-style="normal" font-size="11.00" fill="#000" stroke="#000" stroke-width="0.45" stroke-linejoin="round" xml:space="preserve">t</text>
<text transform="translate(367.30,106.20) scale(0.7829,1.0000)" font-family="Liberation Mono, monospace" font-weight="bold" font-style="normal" font-size="8.60" fill="#000" xml:space="preserve">3</text>
<text transform="translate(374.59,106.20) scale(1.0060,1.0000)" font-family="Liberation Mono, monospace" font-weight="bold" font-style="normal" font-size="7.80" fill="#000" xml:space="preserve">D</text>
<path d="M377.0 107.9 L377.0 121.2" stroke="#000" stroke-width="1.05" fill="none"/>
<path d="M375.4 117.60000000000001 L377.0 118.8 L378.6 117.60000000000001 L377.0 124.5 Z" fill="#000"/>
<rect x="44.2" y="165.2" width="191.60" height="117.80" fill="none" stroke="#cccccc" stroke-width="0.8"/>
<path d="M48.00 283.0 v-2.4 M48.00 165.2 v2.4 M100.40 283.0 v-2.4 M100.40 165.2 v2.4 M152.80 283.0 v-2.4 M152.80 165.2 v2.4 M205.20 283.0 v-2.4 M205.20 165.2 v2.4 " stroke="#808080" stroke-width="0.7" fill="none"/>
<path d="M45.46 283.0 v-1.2 M45.46 165.2 v1.2 M46.80 283.0 v-1.2 M46.80 165.2 v1.2 M74.20 283.0 v-1.2 M74.20 165.2 v1.2 M82.09 283.0 v-1.2 M82.09 165.2 v1.2 M86.70 283.0 v-1.2 M86.70 165.2 v1.2 M89.97 283.0 v-1.2 M89.97 165.2 v1.2 M92.51 283.0 v-1.2 M92.51 165.2 v1.2 M94.59 283.0 v-1.2 M94.59 165.2 v1.2 M96.34 283.0 v-1.2 M96.34 165.2 v1.2 M97.86 283.0 v-1.2 M97.86 165.2 v1.2 M99.20 283.0 v-1.2 M99.20 165.2 v1.2 M126.60 283.0 v-1.2 M126.60 165.2 v1.2 M134.49 283.0 v-1.2 M134.49 165.2 v1.2 M139.10 283.0 v-1.2 M139.10 165.2 v1.2 M142.37 283.0 v-1.2 M142.37 165.2 v1.2 M144.91 283.0 v-1.2 M144.91 165.2 v1.2 M146.99 283.0 v-1.2 M146.99 165.2 v1.2 M148.74 283.0 v-1.2 M148.74 165.2 v1.2 M150.26 283.0 v-1.2 M150.26 165.2 v1.2 M151.60 283.0 v-1.2 M151.60 165.2 v1.2 M179.00 283.0 v-1.2 M179.00 165.2 v1.2 M186.89 283.0 v-1.2 M186.89 165.2 v1.2 M191.50 283.0 v-1.2 M191.50 165.2 v1.2 M194.77 283.0 v-1.2 M194.77 165.2 v1.2 M197.31 283.0 v-1.2 M197.31 165.2 v1.2 M199.39 283.0 v-1.2 M199.39 165.2 v1.2 M201.14 283.0 v-1.2 M201.14 165.2 v1.2 M202.66 283.0 v-1.2 M202.66 165.2 v1.2 M204.00 283.0 v-1.2 M204.00 165.2 v1.2 M231.40 283.0 v-1.2 M231.40 165.2 v1.2 " stroke="#808080" stroke-width="0.7" fill="none"/>
<path d="M44.2 281.75 h2.4 M235.8 281.75 h-2.4 M44.2 262.10 h2.4 M235.8 262.10 h-2.4 M44.2 242.45 h2.4 M235.8 242.45 h-2.4 M44.2 222.80 h2.4 M235.8 222.80 h-2.4 M44.2 203.15 h2.4 M235.8 203.15 h-2.4 M44.2 183.50 h2.4 M235.8 183.50 h-2.4 " stroke="#b4b4b4" stroke-width="0.6" fill="none"/>
<path d="M44.2 281.75 h1.3 M235.8 281.75 h-1.3 M44.2 277.82 h1.3 M235.8 277.82 h-1.3 M44.2 273.89 h1.3 M235.8 273.89 h-1.3 M44.2 269.96 h1.3 M235.8 269.96 h-1.3 M44.2 266.03 h1.3 M235.8 266.03 h-1.3 M44.2 262.10 h1.3 M235.8 262.10 h-1.3 M44.2 258.17 h1.3 M235.8 258.17 h-1.3 M44.2 254.24 h1.3 M235.8 254.24 h-1.3 M44.2 250.31 h1.3 M235.8 250.31 h-1.3 M44.2 246.38 h1.3 M235.8 246.38 h-1.3 M44.2 242.45 h1.3 M235.8 242.45 h-1.3 M44.2 238.52 h1.3 M235.8 238.52 h-1.3 M44.2 234.59 h1.3 M235.8 234.59 h-1.3 M44.2 230.66 h1.3 M235.8 230.66 h-1.3 M44.2 226.73 h1.3 M235.8 226.73 h-1.3 M44.2 222.80 h1.3 M235.8 222.80 h-1.3 M44.2 218.87 h1.3 M235.8 218.87 h-1.3 M44.2 214.94 h1.3 M235.8 214.94 h-1.3 M44.2 211.01 h1.3 M235.8 211.01 h-1.3 M44.2 207.08 h1.3 M235.8 207.08 h-1.3 M44.2 203.15 h1.3 M235.8 203.15 h-1.3 M44.2 199.22 h1.3 M235.8 199.22 h-1.3 M44.2 195.29 h1.3 M235.8 195.29 h-1.3 M44.2 191.36 h1.3 M235.8 191.36 h-1.3 M44.2 187.43 h1.3 M235.8 187.43 h-1.3 M44.2 183.50 h1.3 M235.8 183.50 h-1.3 M44.2 179.57 h1.3 M235.8 179.57 h-1.3 M44.2 175.64 h1.3 M235.8 175.64 h-1.3 M44.2 171.71 h1.3 M235.8 171.71 h-1.3 M44.2 167.78 h1.3 M235.8 167.78 h-1.3 " stroke="#b4b4b4" stroke-width="0.6" fill="none"/>
<path d="M47.40 167.20 L48.40 167.80 L49.39 168.40 L50.39 169.00 L51.38 169.61 L52.38 170.22 L53.37 170.83 L54.37 171.44 L55.36 172.05 L56.36 172.67 L57.35 173.29 L58.35 173.91 L59.34 174.53 L60.34 175.15 L61.33 175.78 L62.33 176.42 L63.32 177.08 L64.32 177.76 L65.31 178.46 L66.31 179.20 L67.30 179.98 L68.30 180.81 L69.29 181.68 L70.29 182.60 L71.28 183.59 L72.28 184.64 L73.27 185.75 L74.27 186.93 L75.26 188.17 L76.26 189.47 L77.25 190.83 L78.25 192.25 L79.25 193.72 L80.24 195.25 L81.24 196.83 L82.23 198.47 L83.23 200.16 L84.22 201.90 L85.22 203.69 L86.21 205.51 L87.21 207.35 L88.20 209.22 L89.20 211.10 L90.19 212.98 L91.19 214.86 L92.18 216.74 L93.18 218.62 L94.17 220.48 L95.17 222.33 L96.16 224.16 L97.16 225.97 L98.15 227.75 L99.15 229.50 L100.14 231.22 L101.14 232.90 L102.13 234.54 L103.13 236.13 L104.12 237.67 L105.12 239.16 L106.11 240.59 L107.11 241.96 L108.10 243.26 L109.10 244.50 L110.10 245.67 L111.09 246.78 L112.09 247.82 L113.08 248.79 L114.08 249.69 L115.07 250.53 L116.07 251.30 L117.06 252.00 L118.06 252.64 L119.05 253.21 L120.05 253.70 L121.04 254.14 L122.04 254.51 L123.03 254.82 L124.03 255.08 L125.02 255.28 L126.02 255.43 L127.01 255.54 L128.01 255.60 L129.00 255.60 L130.00 255.60 L130.99 255.56 L131.99 255.48 L132.98 255.37 L133.98 255.23 L134.97 255.07 L135.97 254.89 L136.96 254.70 L137.96 254.49 L138.95 254.28 L139.95 254.05 L140.95 253.82 L141.94 253.59 L142.94 253.36 L143.93 253.13 L144.93 252.90 L145.92 252.67 L146.92 252.44 L147.91 252.21 L148.91 251.98 L149.90 251.75 L150.90 251.52 L151.89 251.29 L152.89 251.07 L153.88 250.84 L154.88 250.62 L155.87 250.39 L156.87 250.17 L157.86 249.95 L158.86 249.73 L159.85 249.52 L160.85 249.31 L161.84 249.10 L162.84 248.89 L163.83 248.68 L164.83 248.48 L165.82 248.29 L166.82 248.09 L167.81 247.90 L168.81 247.71 L169.80 247.53 L170.80 247.35 L171.80 247.18 L172.79 247.01 L173.79 246.84 L174.78 246.68 L175.78 246.53 L176.77 246.37 L177.77 246.23 L178.76 246.09 L179.76 245.96 L180.75 245.83 L181.75 245.71 L182.74 245.59 L183.74 245.48 L184.73 245.38 L185.73 245.28 L186.72 245.19 L187.72 245.11 L188.71 245.04 L189.71 244.97 L190.70 244.90 L191.70 244.85 L192.69 244.79 L193.69 244.74 L194.68 244.69 L195.68 244.65 L196.67 244.61 L197.67 244.57 L198.66 244.53 L199.66 244.50 L200.65 244.46 L201.65 244.42 L202.65 244.39 L203.64 244.35 L204.64 244.31 L205.63 244.27 L206.63 244.22 L207.62 244.18 L208.62 244.13 L209.61 244.07 L210.61 244.01 L211.60 243.95 L212.60 243.88 L213.59 243.81 L214.59 243.73 L215.58 243.66 L216.58 243.58 L217.57 243.50 L218.57 243.43 L219.56 243.35 L220.56 243.28 L221.55 243.22 L222.55 243.16 L223.54 243.10 L224.54 243.05 L225.53 243.01 L226.53 242.98 L227.52 242.95 L228.52 242.94 L229.51 242.93 L230.51 242.94 L231.50 242.96 L232.50 243.00" fill="none" stroke="#0a6cff" stroke-width="1.7" stroke-linejoin="round" stroke-linecap="butt"/>
<path d="M47.40 173.20 L48.40 173.91 L49.39 174.59 L50.39 175.24 L51.38 175.87 L52.38 176.48 L53.37 177.08 L54.37 177.66 L55.36 178.25 L56.36 178.83 L57.35 179.41 L58.35 180.00 L59.34 180.60 L60.34 181.21 L61.33 181.84 L62.33 182.50 L63.32 183.18 L64.32 183.89 L65.31 184.64 L66.31 185.43 L67.30 186.26 L68.30 187.14 L69.29 188.07 L70.29 189.06 L71.28 190.10 L72.28 191.21 L73.27 192.39 L74.27 193.64 L75.26 194.96 L76.26 196.35 L77.25 197.81 L78.25 199.36 L79.25 200.99 L80.24 202.70 L81.24 204.50 L82.23 206.38 L83.23 208.36 L84.22 210.42 L85.22 212.55 L86.21 214.69 L87.21 216.82 L88.20 218.91 L89.20 220.91 L90.19 222.80 L91.19 224.60 L92.18 226.35 L93.18 228.07 L94.17 229.79 L95.17 231.54 L96.16 233.35 L97.16 235.23 L98.15 237.19 L99.15 239.22 L100.14 241.34 L101.14 243.56 L102.13 245.86 L103.13 248.21 L104.12 250.57 L105.12 252.90 L106.11 255.15 L107.11 257.28 L108.10 259.26 L109.10 261.08 L110.10 262.75 L111.09 264.29 L112.09 265.71 L113.08 267.02 L114.08 268.22 L115.07 269.33 L116.07 270.35 L117.06 271.31 L118.06 272.20 L119.05 273.04 L120.05 273.84 L121.04 274.59 L122.04 275.31 L123.03 275.97 L124.03 276.60 L125.02 277.18 L126.02 277.72 L127.01 278.21 L128.01 278.65 L129.00 279.05 L130.00 279.41 L130.99 279.71 L131.99 279.97 L132.98 280.18 L133.98 280.36 L134.97 280.50 L135.97 280.61 L136.96 280.70 L137.96 280.76 L138.95 280.82 L139.95 280.86 L140.95 280.89 L141.94 280.92 L142.94 280.95 L143.93 280.98 L144.93 281.01 L145.92 281.04 L146.92 281.07 L147.91 281.09 L148.91 281.11 L149.90 281.14 L150.90 281.16 L151.89 281.18 L152.89 281.20 L153.88 281.22 L154.88 281.23 L155.87 281.25 L156.87 281.26 L157.86 281.28 L158.86 281.29 L159.85 281.30 L160.85 281.30 L161.84 281.30 L162.84 281.30 L163.83 281.30 L164.83 281.30 L165.82 281.30 L166.82 281.30 L167.81 281.30 L168.81 281.30 L169.80 281.30 L170.80 281.30 L171.80 281.30 L172.79 281.30 L173.79 281.30 L174.78 281.30 L175.78 281.30 L176.77 281.30 L177.77 281.30 L178.76 281.30 L179.76 281.30 L180.75 281.30 L181.75 281.30 L182.74 281.30 L183.74 281.30 L184.73 281.30 L185.73 281.30 L186.72 281.30 L187.72 281.30 L188.71 281.30 L189.71 281.30 L190.70 281.30 L191.70 281.30 L192.69 281.30 L193.69 281.30 L194.68 281.30 L195.68 281.30 L196.67 281.30 L197.67 281.30 L198.66 281.29 L199.66 281.29 L200.65 281.28 L201.65 281.28 L202.65 281.27 L203.64 281.27 L204.64 281.26 L205.63 281.26 L206.63 281.25 L207.62 281.25 L208.62 281.24 L209.61 281.24 L210.61 281.24 L211.60 281.24 L212.60 281.23 L213.59 281.23 L214.59 281.23 L215.58 281.23 L216.58 281.23 L217.57 281.23 L218.57 281.23 L219.56 281.23 L220.56 281.23 L221.55 281.23 L222.55 281.23 L223.54 281.24 L224.54 281.24 L225.53 281.25 L226.53 281.25 L227.52 281.26 L228.52 281.26 L229.51 281.27 L230.51 281.28 L231.50 281.29 L232.50 281.30" fill="none" stroke="#c400ff" stroke-width="1.7" stroke-linejoin="round" stroke-linecap="butt"/>
<path d="M47.00 275.00 L48.00 275.00 L48.99 275.00 L49.99 275.00 L50.99 275.00 L51.99 275.00 L52.98 275.00 L53.98 275.00 L54.98 275.00 L55.98 275.00 L56.97 275.00 L57.97 275.00 L58.97 275.00 L59.97 275.00 L60.96 275.00 L61.96 275.00 L62.96 275.00 L63.95 275.00 L64.95 275.00 L65.95 275.00 L66.95 275.00 L67.94 274.96 L68.94 274.91 L69.94 274.85 L70.94 274.78 L71.93 274.71 L72.93 274.64 L73.93 274.56 L74.92 274.47 L75.92 274.37 L76.92 274.27 L77.92 274.16 L78.91 274.05 L79.91 273.93 L80.91 273.80 L81.91 273.66 L82.90 273.52 L83.90 273.36 L84.90 273.20 L85.90 273.04 L86.89 272.86 L87.89 272.68 L88.89 272.48 L89.88 272.28 L90.88 272.07 L91.88 271.85 L92.88 271.63 L93.87 271.39 L94.87 271.14 L95.87 270.89 L96.87 270.62 L97.86 270.35 L98.86 270.07 L99.86 269.78 L100.85 269.48 L101.85 269.18 L102.85 268.87 L103.85 268.55 L104.84 268.22 L105.84 267.89 L106.84 267.56 L107.84 267.22 L108.83 266.87 L109.83 266.52 L110.83 266.16 L111.83 265.80 L112.82 265.44 L113.82 265.07 L114.82 264.70 L115.81 264.33 L116.81 263.95 L117.81 263.58 L118.81 263.20 L119.80 262.82 L120.80 262.44 L121.80 262.06 L122.80 261.67 L123.79 261.29 L124.79 260.91 L125.79 260.53 L126.78 260.15 L127.78 259.77 L128.78 259.39 L129.78 259.02 L130.77 258.64 L131.77 258.27 L132.77 257.91 L133.77 257.54 L134.76 257.18 L135.76 256.83 L136.76 256.47 L137.76 256.13 L138.75 255.78 L139.75 255.45 L140.75 255.12 L141.74 254.79 L142.74 254.47 L143.74 254.16 L144.74 253.85 L145.73 253.55 L146.73 253.25 L147.73 252.96 L148.73 252.68 L149.72 252.40 L150.72 252.12 L151.72 251.86 L152.72 251.59 L153.71 251.34 L154.71 251.08 L155.71 250.84 L156.70 250.59 L157.70 250.36 L158.70 250.13 L159.70 249.90 L160.69 249.68 L161.69 249.46 L162.69 249.25 L163.69 249.04 L164.68 248.84 L165.68 248.64 L166.68 248.45 L167.67 248.26 L168.67 248.07 L169.67 247.89 L170.67 247.72 L171.66 247.55 L172.66 247.38 L173.66 247.22 L174.66 247.06 L175.65 246.90 L176.65 246.75 L177.65 246.60 L178.65 246.46 L179.64 246.32 L180.64 246.19 L181.64 246.06 L182.63 245.93 L183.63 245.80 L184.63 245.68 L185.63 245.57 L186.62 245.45 L187.62 245.34 L188.62 245.24 L189.62 245.13 L190.61 245.03 L191.61 244.94 L192.61 244.84 L193.60 244.75 L194.60 244.66 L195.60 244.58 L196.60 244.50 L197.59 244.42 L198.59 244.34 L199.59 244.27 L200.59 244.20 L201.58 244.13 L202.58 244.06 L203.58 244.00 L204.58 243.94 L205.57 243.88 L206.57 243.83 L207.57 243.77 L208.56 243.72 L209.56 243.67 L210.56 243.62 L211.56 243.58 L212.55 243.53 L213.55 243.49 L214.55 243.45 L215.55 243.42 L216.54 243.38 L217.54 243.35 L218.54 243.31 L219.53 243.28 L220.53 243.25 L221.53 243.23 L222.53 243.20 L223.52 243.18 L224.52 243.15 L225.52 243.13 L226.52 243.11 L227.51 243.09 L228.51 243.07 L229.51 243.05 L230.51 243.03 L231.50 243.02 L232.50 243.00" fill="none" stroke="#d8f000" stroke-width="1.7" stroke-linejoin="round" stroke-linecap="butt" stroke-dasharray="2.0 1.4" stroke-dashoffset="0"/>
<path d="M47.00 275.00 L48.00 275.00 L48.99 275.00 L49.99 275.00 L50.99 275.00 L51.99 275.00 L52.98 275.00 L53.98 275.00 L54.98 275.00 L55.98 275.00 L56.97 275.00 L57.97 275.00 L58.97 275.00 L59.97 275.00 L60.96 275.00 L61.96 275.00 L62.96 275.00 L63.95 275.00 L64.95 275.00 L65.95 275.00 L66.95 275.00 L67.94 274.96 L68.94 274.91 L69.94 274.85 L70.94 274.78 L71.93 274.71 L72.93 274.64 L73.93 274.56 L74.92 274.47 L75.92 274.37 L76.92 274.27 L77.92 274.16 L78.91 274.05 L79.91 273.93 L80.91 273.80 L81.91 273.66 L82.90 273.52 L83.90 273.36 L84.90 273.20 L85.90 273.04 L86.89 272.86 L87.89 272.68 L88.89 272.48 L89.88 272.28 L90.88 272.07 L91.88 271.85 L92.88 271.63 L93.87 271.39 L94.87 271.14 L95.87 270.89 L96.87 270.62 L97.86 270.35 L98.86 270.07 L99.86 269.78 L100.85 269.48 L101.85 269.18 L102.85 268.87 L103.85 268.55 L104.84 268.22 L105.84 267.89 L106.84 267.56 L107.84 267.22 L108.83 266.87 L109.83 266.52 L110.83 266.16 L111.83 265.80 L112.82 265.44 L113.82 265.07 L114.82 264.70 L115.81 264.33 L116.81 263.95 L117.81 263.58 L118.81 263.20 L119.80 262.82 L120.80 262.44 L121.80 262.06 L122.80 261.67 L123.79 261.29 L124.79 260.91 L125.79 260.53 L126.78 260.15 L127.78 259.77 L128.78 259.39 L129.78 259.02 L130.77 258.64 L131.77 258.27 L132.77 257.91 L133.77 257.54 L134.76 257.18 L135.76 256.83 L136.76 256.47 L137.76 256.13 L138.75 255.78 L139.75 255.45 L140.75 255.12 L141.74 254.79 L142.74 254.47 L143.74 254.16 L144.74 253.85 L145.73 253.55 L146.73 253.25 L147.73 252.96 L148.73 252.68 L149.72 252.40 L150.72 252.12 L151.72 251.86 L152.72 251.59 L153.71 251.34 L154.71 251.08 L155.71 250.84 L156.70 250.59 L157.70 250.36 L158.70 250.13 L159.70 249.90 L160.69 249.68 L161.69 249.46 L162.69 249.25 L163.69 249.04 L164.68 248.84 L165.68 248.64 L166.68 248.45 L167.67 248.26 L168.67 248.07 L169.67 247.89 L170.67 247.72 L171.66 247.55 L172.66 247.38 L173.66 247.22 L174.66 247.06 L175.65 246.90 L176.65 246.75 L177.65 246.60 L178.65 246.46 L179.64 246.32 L180.64 246.19 L181.64 246.06 L182.63 245.93 L183.63 245.80 L184.63 245.68 L185.63 245.57 L186.62 245.45 L187.62 245.34 L188.62 245.24 L189.62 245.13 L190.61 245.03 L191.61 244.94 L192.61 244.84 L193.60 244.75 L194.60 244.66 L195.60 244.58 L196.60 244.50 L197.59 244.42 L198.59 244.34 L199.59 244.27 L200.59 244.20 L201.58 244.13 L202.58 244.06 L203.58 244.00 L204.58 243.94 L205.57 243.88 L206.57 243.83 L207.57 243.77 L208.56 243.72 L209.56 243.67 L210.56 243.62 L211.56 243.58 L212.55 243.53 L213.55 243.49 L214.55 243.45 L215.55 243.42 L216.54 243.38 L217.54 243.35 L218.54 243.31 L219.53 243.28 L220.53 243.25 L221.53 243.23 L222.53 243.20 L223.52 243.18 L224.52 243.15 L225.52 243.13 L226.52 243.11 L227.51 243.09 L228.51 243.07 L229.51 243.05 L230.51 243.03 L231.50 243.02 L232.50 243.00" fill="none" stroke="#ff1020" stroke-width="1.7" stroke-linejoin="round" stroke-linecap="butt" stroke-dasharray="2.2 2.66" stroke-dashoffset="0"/>
<text transform="translate(22.12,189.00) scale(1.1260,1.0000)" font-family="Liberation Sans, sans-serif" font-weight="bold" font-style="normal" font-size="12.43" fill="#000" xml:space="preserve">2.5</text>
<text transform="translate(22.12,208.45) scale(1.1371,1.0000)" font-family="Liberation Sans, sans-serif" font-weight="bold" font-style="normal" font-size="12.43" fill="#000" xml:space="preserve">2.0</text>
<text transform="translate(21.71,227.90) scale(1.1502,1.0000)" font-family="Liberation Sans, sans-serif" font-weight="bold" font-style="normal" font-size="12.43" fill="#000" xml:space="preserve">1.5</text>
<text transform="translate(21.70,247.35) scale(1.1618,1.0000)" font-family="Liberation Sans, sans-serif" font-weight="bold" font-style="normal" font-size="12.43" fill="#000" xml:space="preserve">1.0</text>
<text transform="translate(22.05,266.80) scale(1.1303,1.0000)" font-family="Liberation Sans, sans-serif" font-weight="bold" font-style="normal" font-size="12.43" fill="#000" xml:space="preserve">0.5</text>
<text transform="translate(22.05,286.25) scale(1.1415,1.0000)" font-family="Liberation Sans, sans-serif" font-weight="bold" font-style="normal" font-size="12.43" fill="#000" xml:space="preserve">0.0</text>
<text transform="translate(33.52,297.40) scale(1.1462,1.0000)" font-family="Liberation Sans, sans-serif" font-weight="bold" font-style="normal" font-size="12.99" fill="#000" xml:space="preserve">0.01</text>
<text transform="translate(97.19,297.30) scale(0.9768,1.0000)" font-family="Liberation Sans, sans-serif" font-weight="bold" font-style="normal" font-size="13.37" fill="#000" xml:space="preserve">1</text>
<text transform="translate(140.68,297.40) scale(1.1450,1.0000)" font-family="Liberation Sans, sans-serif" font-weight="bold" font-style="normal" font-size="12.99" fill="#000" xml:space="preserve">100</text>
<text transform="translate(194.10,298.30) scale(1.1124,1.0000)" font-family="Liberation Sans, sans-serif" font-weight="bold" font-style="normal" font-size="12.99" fill="#000" xml:space="preserve">10</text>
<text transform="translate(210.35,292.60) scale(0.9535,1.0000)" font-family="Liberation Sans, sans-serif" font-weight="bold" font-style="normal" font-size="10.17" fill="#000" xml:space="preserve">4</text>
<text transform="translate(122.73,316.50) scale(1.1580,1.0000)" font-family="Liberation Sans, sans-serif" font-weight="bold" font-style="normal" font-size="12.43" fill="#000" xml:space="preserve">t (ns)</text>
<g transform="translate(15.4,248.4) rotate(-90)"><text transform="translate(-0.86,0.00) scale(1.0500,1.0000)" font-family="Liberation Sans, sans-serif" font-weight="bold" font-style="normal" font-size="12.43" fill="#000" xml:space="preserve">P</text><text transform="translate(11.76,0.00) scale(1.2000,1.0000)" font-family="Liberation Sans, sans-serif" font-weight="bold" font-style="normal" font-size="12.43" fill="#000" xml:space="preserve">(</text><text transform="translate(17.76,0.00) scale(1.0984,1.0000)" font-family="Liberation Sans, sans-serif" font-weight="bold" font-style="normal" font-size="12.43" fill="#000" xml:space="preserve">kbar</text><text transform="translate(48.27,0.00) scale(1.2000,1.0000)" font-family="Liberation Sans, sans-serif" font-weight="bold" font-style="normal" font-size="12.43" fill="#000" xml:space="preserve">)</text></g>
<text transform="translate(83.10,183.90) scale(1.0586,1.0000)" font-family="Liberation Serif, serif" font-weight="normal" font-style="italic" font-size="15.00" fill="#000" stroke="#000" stroke-width="0.12" stroke-linejoin="round" xml:space="preserve">P</text>
<text transform="translate(92.65,185.90) scale(1.0000,1.0000)" font-family="Liberation Serif, serif" font-weight="normal" font-style="italic" font-size="10.40" fill="#000" stroke="#000" stroke-width="0.12" stroke-linejoin="round" xml:space="preserve">l</text>
<text transform="translate(59.00,205.50) scale(1.0586,1.0000)" font-family="Liberation Serif, serif" font-weight="normal" font-style="italic" font-size="15.00" fill="#000" stroke="#000" stroke-width="0.12" stroke-linejoin="round" xml:space="preserve">P</text>
<text transform="translate(67.00,206.80) scale(0.9231,1.0000)" font-family="Liberation Serif, serif" font-weight="normal" font-style="italic" font-size="11.50" fill="#000" stroke="#000" stroke-width="0.12" stroke-linejoin="round" xml:space="preserve">g</text>
<text transform="translate(143.08,180.20) scale(1.1928,1.0000)" font-family="Liberation Serif, serif" font-weight="normal" font-style="normal" font-size="14.00" fill="#000" xml:space="preserve">(c)</text>
<rect x="280.2" y="163.4" width="172.20" height="120.80" fill="none" stroke="#cccccc" stroke-width="0.8"/>
<path d="M288.50 284.2 v-2.4 M288.50 163.4 v2.4 M335.40 284.2 v-2.4 M335.40 163.4 v2.4 M382.30 284.2 v-2.4 M382.30 163.4 v2.4 M429.20 284.2 v-2.4 M429.20 163.4 v2.4 " stroke="#808080" stroke-width="0.7" fill="none"/>
<path d="M281.44 284.2 v-1.2 M281.44 163.4 v1.2 M283.30 284.2 v-1.2 M283.30 163.4 v1.2 M284.87 284.2 v-1.2 M284.87 163.4 v1.2 M286.23 284.2 v-1.2 M286.23 163.4 v1.2 M287.43 284.2 v-1.2 M287.43 163.4 v1.2 M311.95 284.2 v-1.2 M311.95 163.4 v1.2 M319.01 284.2 v-1.2 M319.01 163.4 v1.2 M323.14 284.2 v-1.2 M323.14 163.4 v1.2 M326.07 284.2 v-1.2 M326.07 163.4 v1.2 M328.34 284.2 v-1.2 M328.34 163.4 v1.2 M330.20 284.2 v-1.2 M330.20 163.4 v1.2 M331.77 284.2 v-1.2 M331.77 163.4 v1.2 M333.13 284.2 v-1.2 M333.13 163.4 v1.2 M334.33 284.2 v-1.2 M334.33 163.4 v1.2 M358.85 284.2 v-1.2 M358.85 163.4 v1.2 M365.91 284.2 v-1.2 M365.91 163.4 v1.2 M370.04 284.2 v-1.2 M370.04 163.4 v1.2 M372.97 284.2 v-1.2 M372.97 163.4 v1.2 M375.24 284.2 v-1.2 M375.24 163.4 v1.2 M377.10 284.2 v-1.2 M377.10 163.4 v1.2 M378.67 284.2 v-1.2 M378.67 163.4 v1.2 M380.03 284.2 v-1.2 M380.03 163.4 v1.2 M381.23 284.2 v-1.2 M381.23 163.4 v1.2 M405.75 284.2 v-1.2 M405.75 163.4 v1.2 M412.81 284.2 v-1.2 M412.81 163.4 v1.2 M416.94 284.2 v-1.2 M416.94 163.4 v1.2 M419.87 284.2 v-1.2 M419.87 163.4 v1.2 M422.14 284.2 v-1.2 M422.14 163.4 v1.2 M424.00 284.2 v-1.2 M424.00 163.4 v1.2 M425.57 284.2 v-1.2 M425.57 163.4 v1.2 M426.93 284.2 v-1.2 M426.93 163.4 v1.2 M428.13 284.2 v-1.2 M428.13 163.4 v1.2 " stroke="#808080" stroke-width="0.7" fill="none"/>
<path d="M280.2 265.40 h2.4 M452.4 265.40 h-2.4 M280.2 240.05 h2.4 M452.4 240.05 h-2.4 M280.2 206.55 h2.4 M452.4 206.55 h-2.4 M280.2 181.20 h2.4 M452.4 181.20 h-2.4 " stroke="#b4b4b4" stroke-width="0.6" fill="none"/>
<path d="M280.2 284.08 h1.3 M452.4 284.08 h-1.3 M280.2 278.44 h1.3 M452.4 278.44 h-1.3 M280.2 273.56 h1.3 M452.4 273.56 h-1.3 M280.2 269.25 h1.3 M452.4 269.25 h-1.3 M280.2 225.23 h1.3 M452.4 225.23 h-1.3 M280.2 214.71 h1.3 M452.4 214.71 h-1.3 M280.2 199.88 h1.3 M452.4 199.88 h-1.3 M280.2 194.24 h1.3 M452.4 194.24 h-1.3 M280.2 189.36 h1.3 M452.4 189.36 h-1.3 M280.2 185.05 h1.3 M452.4 185.05 h-1.3 M280.2 166.37 h1.3 M452.4 166.37 h-1.3 " stroke="#b4b4b4" stroke-width="0.6" fill="none"/>
<path d="M280.40 243.70 L281.05 243.54 L281.69 243.38 L282.34 243.23 L282.99 243.07 L283.63 242.91 L284.28 242.76 L284.93 242.60 L285.57 242.45 L286.22 242.29 L286.87 242.14 L287.51 241.99 L288.16 241.83 L288.81 241.68 L289.46 241.53 L290.10 241.38 L290.75 241.23 L291.40 241.08 L292.05 240.93 L292.70 240.78 L293.34 240.63 L293.99 240.48 L294.64 240.33 L295.29 240.19 L295.94 240.04 L296.59 239.90 L297.24 239.75 L297.89 239.61 L298.54 239.47 L299.19 239.33 L299.84 239.19 L300.49 239.05 L301.14 238.90 L301.79 238.76 L302.44 238.62 L303.09 238.48 L303.74 238.34 L304.39 238.20 L305.04 238.06 L305.69 237.92 L306.34 237.78 L306.99 237.63 L307.64 237.49 L308.29 237.34 L308.94 237.20 L309.59 237.05 L310.23 236.90 L310.88 236.75 L311.53 236.60 L312.18 236.45 L312.83 236.31 L313.48 236.16 L314.12 236.01 L314.77 235.86 L315.42 235.71 L316.07 235.56 L316.72 235.40 L317.37 235.25 L318.01 235.10 L318.66 234.95 L319.31 234.79 L319.95 234.64 L320.60 234.48 L321.25 234.32 L321.89 234.16 L322.54 234.00 L323.18 233.84 L323.83 233.68 L324.47 233.52 L325.12 233.35 L325.76 233.18 L326.40 233.02 L327.05 232.85 L327.69 232.68 L328.33 232.51 L328.98 232.34 L329.62 232.16 L330.26 231.99 L330.90 231.81 L331.55 231.64 L332.19 231.46 L332.83 231.28 L333.47 231.10 L334.11 230.92 L334.75 230.74 L335.39 230.55 L336.03 230.37 L336.67 230.18 L337.31 229.99 L337.94 229.80 L338.58 229.61 L339.22 229.41 L339.85 229.22 L340.49 229.02 L341.12 228.82 L341.75 228.62 L342.38 228.42 L343.02 228.21 L343.65 228.00 L344.28 227.79 L344.91 227.58 L345.54 227.37 L346.17 227.15 L346.80 226.93 L347.42 226.71 L348.05 226.49 L348.68 226.27 L349.31 226.04 L349.93 225.81 L350.56 225.59 L351.18 225.36 L351.81 225.12 L352.43 224.89 L353.05 224.66 L353.68 224.42 L354.30 224.19 L354.92 223.95 L355.54 223.71 L356.16 223.48 L356.78 223.24 L357.40 223.00 L358.02 222.76 L358.64 222.52 L359.26 222.27 L359.88 222.03 L360.50 221.78 L361.12 221.54 L361.74 221.29 L362.35 221.04 L362.97 220.78 L363.58 220.53 L364.20 220.28 L364.81 220.02 L365.43 219.76 L366.04 219.50 L366.65 219.24 L367.26 218.97 L367.87 218.71 L368.48 218.44 L369.09 218.17 L369.70 217.90 L370.30 217.63 L370.91 217.35 L371.51 217.07 L372.11 216.79 L372.71 216.51 L373.32 216.23 L373.92 215.94 L374.51 215.65 L375.11 215.35 L375.71 215.06 L376.31 214.76 L376.90 214.46 L377.49 214.16 L378.09 213.86 L378.68 213.55 L379.27 213.24 L379.86 212.93 L380.44 212.62 L381.03 212.31 L381.61 211.99 L382.20 211.67 L382.78 211.35 L383.36 211.03 L383.94 210.70 L384.51 210.37 L385.09 210.03 L385.66 209.70 L386.24 209.36 L386.81 209.02 L387.38 208.68 L387.95 208.33 L388.52 207.99 L389.09 207.64 L389.66 207.29 L390.22 206.95 L390.79 206.60 L391.36 206.25 L391.92 205.90 L392.49 205.55 L393.05 205.20 L393.62 204.84 L394.18 204.49 L394.74 204.14 L395.30 203.78 L395.87 203.42 L396.43 203.07 L396.99 202.71 L397.55 202.35 L398.10 201.98 L398.66 201.62 L399.22 201.26 L399.78 200.89 L400.33 200.52 L400.88 200.16 L401.44 199.79 L401.99 199.42 L402.54 199.05 L403.09 198.67 L403.64 198.30 L404.19 197.92 L404.74 197.54 L405.28 197.16 L405.82 196.78 L406.37 196.39 L406.91 196.01 L407.45 195.62 L407.99 195.23 L408.53 194.84 L409.07 194.45 L409.61 194.06 L410.15 193.67 L410.68 193.28 L411.22 192.89 L411.76 192.50 L412.30 192.11 L412.84 191.72 L413.39 191.34 L413.93 190.95 L414.47 190.57 L415.01 190.17 L415.55 189.78 L416.08 189.38 L416.62 188.98 L417.15 188.58 L417.69 188.18 L418.22 187.78 L418.76 187.38 L419.30 186.98 L419.83 186.59 L420.37 186.20 L420.92 185.81 L421.46 185.43 L422.01 185.05 L422.56 184.69 L423.12 184.32 L423.67 183.97 L424.24 183.63 L424.81 183.30 L425.38 182.96 L425.96 182.63 L426.54 182.29 L427.13 181.96 L427.72 181.64 L428.32 181.33 L428.92 181.03 L429.52 180.75 L430.14 180.50 L430.75 180.27 L431.38 180.08 L432.02 179.88 L432.68 179.70 L433.34 179.54 L433.99 179.43 L434.62 179.40 L435.26 179.52 L435.91 179.76 L436.54 180.10 L437.13 180.48 L437.65 180.88 L438.11 181.28 L438.53 181.76 L438.93 182.29 L439.31 182.88 L439.65 183.49 L439.97 184.10 L440.26 184.71 L440.52 185.31 L440.77 185.92 L441.01 186.54 L441.24 187.17 L441.45 187.81 L441.64 188.45 L441.82 189.10 L441.99 189.74 L442.14 190.39 L442.29 191.03 L442.43 191.68 L442.56 192.33 L442.69 192.98 L442.82 193.64 L442.93 194.30 L443.04 194.95 L443.15 195.61 L443.25 196.27 L443.35 196.93 L443.44 197.59 L443.52 198.25 L443.60 198.91 L443.68 199.57 L443.75 200.23 L443.82 200.89 L443.89 201.55 L443.96 202.22 L444.02 202.88 L444.08 203.54 L444.14 204.20 L444.20 204.87 L444.26 205.53 L444.31 206.19 L444.36 206.86 L444.41 207.52 L444.46 208.19 L444.51 208.85 L444.55 209.51 L444.60 210.18 L444.64 210.84 L444.68 211.51 L444.72 212.17 L444.76 212.83 L444.80 213.50 L444.84 214.16 L444.88 214.83 L444.92 215.49 L444.96 216.15 L445.00 216.82 L445.03 217.48 L445.07 218.15 L445.10 218.81 L445.13 219.48 L445.16 220.14 L445.19 220.81 L445.21 221.47 L445.24 222.14 L445.26 222.80 L445.27 223.47 L445.29 224.13 L445.30 224.80 L445.31 225.46 L445.32 226.13 L445.33 226.79 L445.34 227.46 L445.34 228.12 L445.35 228.79 L445.36 229.45 L445.37 230.12 L445.37 230.78 L445.38 231.45 L445.39 232.11 L445.39 232.78 L445.40 233.44 L445.40 234.11 L445.41 234.77 L445.41 235.44 L445.42 236.10 L445.42 236.77 L445.43 237.43 L445.43 238.10 L445.44 238.76 L445.44 239.43 L445.45 240.09 L445.45 240.76 L445.45 241.42 L445.46 242.09 L445.46 242.76 L445.47 243.42 L445.47 244.09 L445.47 244.75 L445.48 245.42 L445.48 246.08 L445.48 246.75 L445.48 247.41 L445.49 248.08 L445.49 248.74 L445.49 249.41 L445.50 250.07 L445.50 250.74 L445.50 251.40 L445.51 252.07 L445.51 252.73 L445.51 253.40 L445.51 254.07 L445.52 254.73 L445.52 255.40 L445.52 256.06 L445.53 256.73 L445.53 257.39 L445.53 258.06 L445.53 258.72 L445.54 259.39 L445.54 260.05 L445.54 260.72 L445.54 261.38 L445.55 262.05 L445.55 262.71 L445.55 263.38 L445.55 264.04 L445.56 264.71 L445.56 265.37 L445.56 266.04 L445.56 266.70 L445.57 267.37 L445.57 268.03 L445.57 268.70 L445.57 269.37 L445.57 270.03 L445.58 270.70 L445.58 271.36 L445.58 272.03 L445.58 272.69 L445.58 273.36 L445.59 274.02 L445.59 274.69 L445.59 275.35 L445.59 276.02 L445.59 276.68 L445.59 277.35 L445.59 278.01 L445.59 278.68 L445.60 279.34 L445.60 280.01 L445.60 280.67 L445.60 281.34 L445.60 282.00 L445.60 282.67 L445.60 283.33 L445.60 284.00" fill="none" stroke="#ff1020" stroke-width="1.7" stroke-linejoin="round" stroke-linecap="butt"/>
<path d="M327.50 284.00 L328.49 282.39 L329.49 280.78 L330.48 279.17 L331.47 277.58 L332.47 275.99 L333.46 274.40 L334.45 272.83 L335.45 271.27 L336.44 269.72 L337.43 268.19 L338.43 266.67 L339.42 265.16 L340.41 263.67 L341.41 262.20 L342.40 260.75 L343.39 259.32 L344.39 257.91 L345.38 256.52 L346.37 255.15 L347.37 253.80 L348.36 252.48 L349.35 251.18 L350.35 249.90 L351.34 248.65 L352.34 247.42 L353.33 246.22 L354.32 245.04 L355.32 243.88 L356.31 242.75 L357.30 241.64 L358.30 240.54 L359.29 239.47 L360.28 238.41 L361.28 237.37 L362.27 236.34 L363.26 235.33 L364.26 234.34 L365.25 233.36 L366.24 232.38 L367.24 231.43 L368.23 230.48 L369.22 229.54 L370.22 228.61 L371.21 227.68 L372.20 226.77 L373.20 225.86 L374.19 224.95 L375.18 224.05 L376.18 223.15 L377.17 222.26 L378.16 221.38 L379.16 220.50 L380.15 219.63 L381.14 218.76 L382.14 217.90 L383.13 217.05 L384.12 216.20 L385.12 215.36 L386.11 214.52 L387.10 213.69 L388.10 212.86 L389.09 212.05 L390.08 211.24 L391.08 210.43 L392.07 209.63 L393.06 208.84 L394.06 208.06 L395.05 207.28 L396.05 206.51 L397.04 205.75 L398.03 204.99 L399.03 204.24 L400.02 203.49 L401.01 202.74 L402.01 201.99 L403.00 201.25 L403.99 200.50 L404.99 199.75 L405.98 199.00 L406.97 198.24 L407.97 197.48 L408.96 196.70 L409.95 195.92 L410.95 195.13 L411.94 194.33 L412.93 193.51 L413.93 192.68 L414.92 191.84 L415.91 190.98 L416.91 190.10 L417.90 189.20" fill="none" stroke="#c400ff" stroke-width="1.7" stroke-linejoin="round" stroke-linecap="butt"/>
<path d="M294.40 247.20 L295.40 246.94 L296.39 246.69 L297.39 246.44 L298.38 246.19 L299.38 245.94 L300.38 245.69 L301.37 245.44 L302.37 245.20 L303.36 244.95 L304.36 244.71 L305.36 244.47 L306.35 244.23 L307.35 243.99 L308.34 243.74 L309.34 243.50 L310.34 243.26 L311.33 243.02 L312.33 242.78 L313.32 242.53 L314.32 242.29 L315.32 242.04 L316.31 241.80 L317.31 241.55 L318.30 241.30 L319.30 241.05 L320.30 240.80 L321.29 240.54 L322.29 240.29 L323.28 240.03 L324.28 239.76 L325.27 239.50 L326.27 239.23 L327.27 238.96 L328.26 238.69 L329.26 238.41 L330.25 238.13 L331.25 237.84 L332.25 237.56 L333.24 237.26 L334.24 236.97 L335.23 236.67 L336.23 236.36 L337.23 236.05 L338.22 235.73 L339.22 235.41 L340.21 235.09 L341.21 234.76 L342.21 234.42 L343.20 234.08 L344.20 233.73 L345.19 233.37 L346.19 233.01 L347.19 232.65 L348.18 232.27 L349.18 231.89 L350.17 231.50 L351.17 231.11 L352.17 230.71 L353.16 230.30 L354.16 229.88 L355.15 229.46 L356.15 229.02 L357.15 228.58 L358.14 228.13 L359.14 227.68 L360.13 227.21 L361.13 226.74 L362.13 226.26 L363.12 225.77 L364.12 225.27 L365.11 224.77 L366.11 224.26 L367.11 223.74 L368.10 223.21 L369.10 222.68 L370.09 222.14 L371.09 221.59 L372.09 221.04 L373.08 220.48 L374.08 219.91 L375.07 219.34 L376.07 218.75 L377.07 218.17 L378.06 217.57 L379.06 216.97 L380.05 216.36 L381.05 215.75 L382.05 215.13 L383.04 214.50 L384.04 213.87 L385.03 213.23 L386.03 212.58 L387.02 211.93 L388.02 211.27 L389.02 210.61 L390.01 209.94 L391.01 209.27 L392.00 208.59 L393.00 207.90 L394.00 207.21 L394.99 206.52 L395.99 205.82 L396.98 205.11 L397.98 204.40 L398.98 203.68 L399.97 202.96 L400.97 202.23 L401.96 201.50 L402.96 200.76 L403.96 200.02 L404.95 199.28 L405.95 198.53 L406.94 197.77 L407.94 197.01 L408.94 196.25 L409.93 195.48 L410.93 194.71 L411.92 193.94 L412.92 193.16 L413.92 192.37 L414.91 191.58 L415.91 190.79 L416.90 190.00 L417.90 189.20" fill="none" stroke="#ff00a0" stroke-width="2.1" stroke-linejoin="round" stroke-linecap="butt" stroke-dasharray="6.3 3.6" stroke-dashoffset="0"/>
<path d="M441.40 187.80 L441.60 188.43 L441.80 189.07 L441.98 189.71 L442.13 190.35 L442.28 190.99 L442.42 191.64 L442.55 192.29 L442.68 192.94 L442.80 193.59 L442.92 194.25 L443.03 194.90 L443.14 195.56 L443.24 196.22 L443.34 196.87 L443.43 197.53 L443.51 198.19 L443.59 198.84 L443.67 199.50 L443.74 200.16 L443.81 200.82 L443.88 201.48 L443.95 202.14 L444.01 202.80 L444.07 203.46 L444.13 204.12 L444.19 204.78 L444.25 205.44 L444.30 206.10 L444.36 206.76 L444.41 207.42 L444.45 208.09 L444.50 208.75 L444.55 209.41 L444.59 210.07 L444.63 210.73 L444.68 211.40 L444.72 212.06 L444.76 212.72 L444.80 213.38 L444.83 214.04 L444.87 214.70 L444.91 215.37 L444.95 216.03 L444.99 216.69 L445.02 217.35 L445.06 218.02 L445.09 218.68 L445.12 219.34 L445.15 220.00 L445.18 220.67 L445.21 221.33 L445.23 221.99 L445.25 222.65 L445.27 223.32 L445.29 223.98 L445.30 224.64 L445.31 225.30 L445.32 225.97 L445.33 226.63 L445.33 227.29 L445.34 227.96 L445.35 228.62 L445.36 229.28 L445.37 229.94 L445.38 230.61 L445.38 231.27 L445.39 231.93 L445.40 232.59 L445.41 233.26 L445.41 233.92 L445.42 234.58 L445.43 235.25 L445.43 235.91 L445.44 236.57 L445.44 237.24 L445.45 237.90 L445.45 238.56 L445.46 239.22 L445.46 239.89 L445.47 240.55 L445.47 241.21 L445.48 241.88 L445.48 242.54 L445.48 243.20 L445.49 243.87 L445.49 244.53 L445.49 245.19 L445.49 245.86 L445.49 246.52 L445.50 247.18 L445.50 247.85 L445.50 248.51 L445.50 249.17 L445.50 249.84 L445.50 250.50" fill="none" stroke="#0a6cff" stroke-width="1.7" stroke-linejoin="round" stroke-linecap="butt"/>
<path d="M441.40 187.80 L441.60 188.43 L441.80 189.07 L441.98 189.70 L442.13 190.34 L442.28 190.99 L442.41 191.64 L442.55 192.28 L442.68 192.93 L442.80 193.59 L442.92 194.24 L443.03 194.89 L443.14 195.55 L443.24 196.20 L443.34 196.86 L443.43 197.52 L443.51 198.17 L443.59 198.83 L443.67 199.49 L443.74 200.14 L443.81 200.80 L443.88 201.46 L443.95 202.12 L444.01 202.78 L444.07 203.44 L444.13 204.10 L444.19 204.76 L444.25 205.42 L444.30 206.08 L444.35 206.74 L444.40 207.40 L444.45 208.06 L444.50 208.72 L444.55 209.38 L444.59 210.04 L444.63 210.70 L444.67 211.37 L444.71 212.03 L444.75 212.69 L444.79 213.35 L444.83 214.01 L444.87 214.67 L444.91 215.33 L444.95 215.99 L444.98 216.65 L445.02 217.32 L445.05 217.98 L445.09 218.64 L445.12 219.30 L445.15 219.96 L445.17 220.62 L445.20 221.29 L445.22 221.95 L445.25 222.61 L445.27 223.27 L445.28 223.93 L445.30 224.59 L445.31 225.26 L445.32 225.92 L445.33 226.58 L445.34 227.24 L445.35 227.90 L445.36 228.57 L445.37 229.23 L445.38 229.89 L445.39 230.55 L445.40 231.21 L445.41 231.88 L445.42 232.54 L445.42 233.20 L445.43 233.86 L445.43 234.53 L445.44 235.19 L445.44 235.85 L445.45 236.51 L445.45 237.18 L445.45 237.84 L445.45 238.50" fill="none" stroke="#2a10f0" stroke-width="1.8" stroke-linejoin="round" stroke-linecap="butt" stroke-dasharray="7 4" stroke-dashoffset="0"/>
<circle cx="434.5" cy="179.8" r="2.1" fill="#5a3cff"/>
<text transform="translate(263.26,186.10) scale(1.0913,1.0000)" font-family="Liberation Sans, sans-serif" font-weight="bold" font-style="normal" font-size="12.43" fill="#000" xml:space="preserve">10</text>
<text transform="translate(271.13,211.50) scale(0.9996,1.0000)" font-family="Liberation Sans, sans-serif" font-weight="bold" font-style="normal" font-size="12.43" fill="#000" xml:space="preserve">5</text>
<text transform="translate(271.06,245.00) scale(1.0182,1.0000)" font-family="Liberation Sans, sans-serif" font-weight="bold" font-style="normal" font-size="12.61" fill="#000" xml:space="preserve">2</text>
<text transform="translate(271.51,269.00) scale(0.8705,1.0000)" font-family="Liberation Sans, sans-serif" font-weight="bold" font-style="normal" font-size="12.79" fill="#000" xml:space="preserve">1</text>
<text transform="translate(275.33,297.60) scale(1.1311,1.0000)" font-family="Liberation Sans, sans-serif" font-weight="bold" font-style="normal" font-size="12.43" fill="#000" xml:space="preserve">10</text>
<text transform="translate(291.00,293.00) scale(1.0961,1.0000)" font-family="Liberation Sans, sans-serif" font-weight="bold" font-style="normal" font-size="8.90" fill="#000" xml:space="preserve">16</text>
<text transform="translate(322.03,297.60) scale(1.1311,1.0000)" font-family="Liberation Sans, sans-serif" font-weight="bold" font-style="normal" font-size="12.43" fill="#000" xml:space="preserve">10</text>
<text transform="translate(337.70,293.00) scale(1.0908,1.0000)" font-family="Liberation Sans, sans-serif" font-weight="bold" font-style="normal" font-size="8.90" fill="#000" xml:space="preserve">18</text>
<text transform="translate(368.73,297.60) scale(1.1311,1.0000)" font-family="Liberation Sans, sans-serif" font-weight="bold" font-style="normal" font-size="12.43" fill="#000" xml:space="preserve">10</text>
<text transform="translate(384.68,293.00) scale(1.0718,1.0000)" font-family="Liberation Sans, sans-serif" font-weight="bold" font-style="normal" font-size="8.90" fill="#000" xml:space="preserve">20</text>
<text transform="translate(415.23,297.60) scale(1.1311,1.0000)" font-family="Liberation Sans, sans-serif" font-weight="bold" font-style="normal" font-size="12.43" fill="#000" xml:space="preserve">10</text>
<text transform="translate(431.18,293.00) scale(1.0708,1.0000)" font-family="Liberation Sans, sans-serif" font-weight="bold" font-style="normal" font-size="8.90" fill="#000" xml:space="preserve">22</text>
<text transform="translate(341.59,316.40) scale(1.0783,1.0000)" font-family="Liberation Sans, sans-serif" font-weight="bold" font-style="normal" font-size="13.03" fill="#000" xml:space="preserve">n</text>
<text transform="translate(353.25,316.40) scale(0.8678,1.0000)" font-family="Liberation Sans, sans-serif" font-weight="bold" font-style="normal" font-size="13.03" fill="#000" xml:space="preserve">(</text>
<text transform="translate(357.42,316.40) scale(0.9358,1.0000)" font-family="Liberation Sans, sans-serif" font-weight="bold" font-style="normal" font-size="13.03" fill="#000" xml:space="preserve">cm</text>
<text transform="translate(375.40,311.30) scale(1.2239,1.0000)" font-family="Liberation Sans, sans-serif" font-weight="bold" font-style="normal" font-size="7.91" fill="#000" xml:space="preserve">−3</text>
<text transform="translate(387.59,316.40) scale(0.9492,1.0000)" font-family="Liberation Sans, sans-serif" font-weight="bold" font-style="normal" font-size="13.03" fill="#000" xml:space="preserve">)</text>
<g transform="translate(256.4,250.6) rotate(-90)"><text transform="translate(-0.15,0.00) scale(1.1707,1.0000)" font-family="Liberation Sans, sans-serif" font-weight="bold" font-style="normal" font-size="11.58" fill="#000" xml:space="preserve">T</text><text transform="translate(12.26,0.00) scale(1.1500,1.0000)" font-family="Liberation Sans, sans-serif" font-weight="bold" font-style="normal" font-size="11.58" fill="#000" xml:space="preserve">(</text><text transform="translate(17.74,0.00) scale(1.1968,1.0000)" font-family="Liberation Sans, sans-serif" font-weight="bold" font-style="normal" font-size="11.58" fill="#000" xml:space="preserve">10</text><text transform="translate(32.89,-5.40) scale(1.2000,1.0000)" font-family="Liberation Sans, sans-serif" font-weight="bold" font-style="normal" font-size="8.33" fill="#000" xml:space="preserve">3</text><text transform="translate(41.66,0.00) scale(0.9742,1.0000)" font-family="Liberation Sans, sans-serif" font-weight="bold" font-style="normal" font-size="11.58" fill="#000" xml:space="preserve">K</text><text transform="translate(49.90,0.00) scale(1.1500,1.0000)" font-family="Liberation Sans, sans-serif" font-weight="bold" font-style="normal" font-size="11.58" fill="#000" xml:space="preserve">)</text></g>
<text transform="translate(367.87,178.40) scale(1.2169,1.0000)" font-family="Liberation Serif, serif" font-weight="normal" font-style="normal" font-size="14.00" fill="#000" xml:space="preserve">(d)</text>
<text transform="translate(398.46,215.10) scale(1.1562,1.0000)" font-family="Liberation Serif, serif" font-weight="normal" font-style="normal" font-size="13.20" fill="#000" xml:space="preserve">g</text>
<text transform="translate(433.70,216.60) scale(1.0500,1.0000)" font-family="Liberation Serif, serif" font-weight="normal" font-style="normal" font-size="14.50" fill="#000" xml:space="preserve">l</text>
</svg>
</body></html>
